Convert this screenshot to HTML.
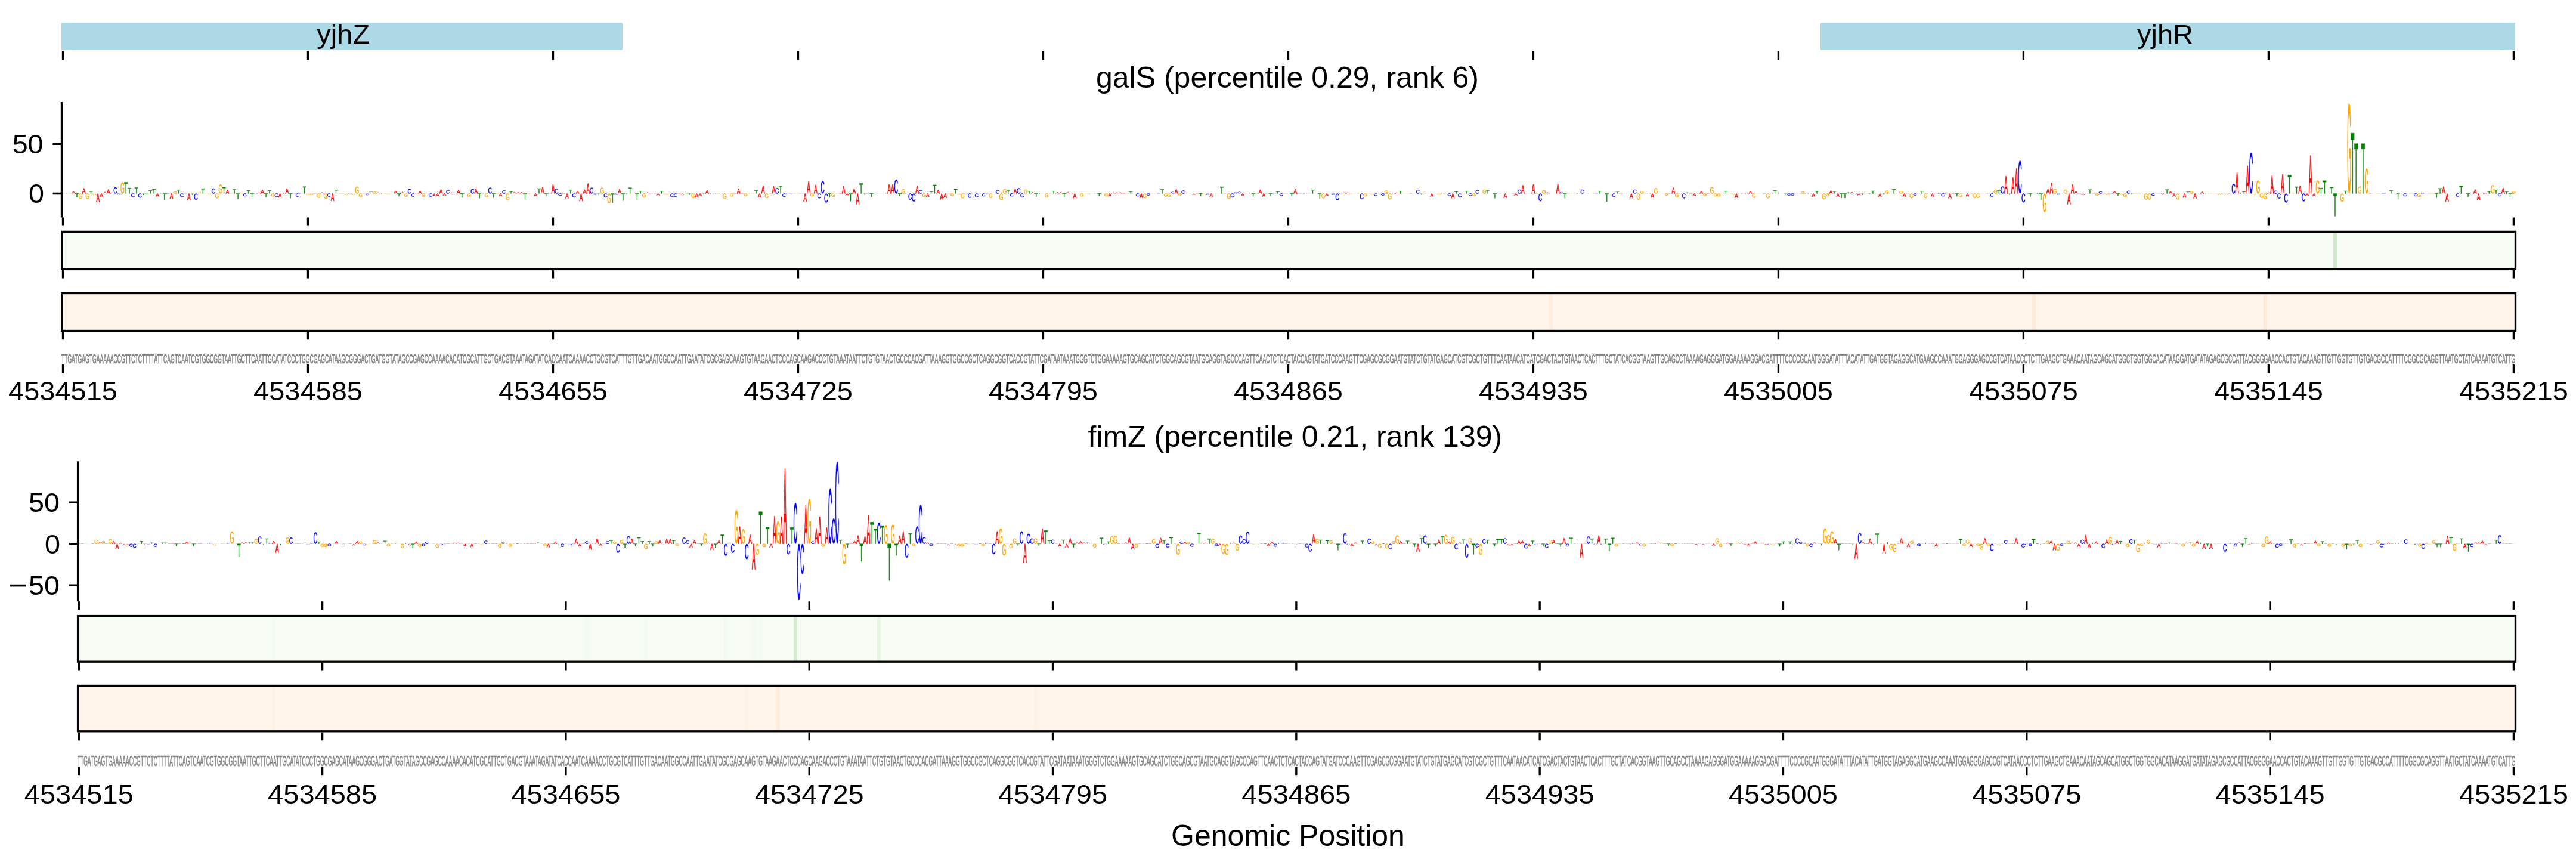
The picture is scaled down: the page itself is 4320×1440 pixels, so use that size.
<!DOCTYPE html><html><head><meta charset="utf-8"><style>html,body{margin:0;padding:0;background:#fff;} svg{display:block;will-change:transform;}</style></head><body><svg width="4320" height="1440" viewBox="0 0 4320 1440">
<style>text{font-family:"Liberation Sans",sans-serif;} .tl{font-size:43.5px;} </style>
<rect width="4320" height="1440" fill="#fff"/>
<defs><path id="gA" d="M85.6 100 73.8 70.8H26.5L14.6 100H0L42.3 0H58.3L100 100ZM50.1 10.2 49.5 12.2Q47.6 18.1 44 27.3L30.8 60.2H69.6L56.3 27.2Q54.2 22.3 52.1 16.1Z" vector-effect="non-scaling-stroke"/><path id="gC" d="M53 10.8Q35 10.8 25 21.1Q15 31.5 15 49.6Q15 67.4 25.4 78.3Q35.9 89.2 53.7 89.2Q76.5 89.2 88 69L100 74.3Q93.3 86.9 81.1 93.4Q69 100 53 100Q36.5 100 24.6 93.9Q12.6 87.8 6.3 76.4Q0 65.1 0 49.6Q0 26.3 14 13.2Q28.1 0 52.9 0Q70.2 0 81.9 6.1Q93.5 12.1 99 24.1L85 28.2Q81.3 19.7 72.9 15.2Q64.5 10.8 53 10.8Z" vector-effect="non-scaling-stroke"/><path id="gG" d="M0 49.6Q0 25.9 13.8 13Q27.5 0 52.4 0Q69.9 0 80.9 5.4Q91.8 10.9 97.7 22.9L84.1 26.6Q79.6 18.3 71.7 14.6Q63.8 10.8 52.1 10.8Q33.8 10.8 24.2 20.9Q14.5 31.1 14.5 49.6Q14.5 68 24.8 78.7Q35 89.3 53.1 89.3Q63.4 89.3 72.4 86.4Q81.3 83.5 86.8 78.6V61H55.3V50H100V83.5Q91.6 91.4 79.5 95.7Q67.3 100 53.1 100Q36.6 100 24.6 93.9Q12.6 87.9 6.3 76.4Q0 65 0 49.6Z" vector-effect="non-scaling-stroke"/><path id="gT" d="M58.2 11.1V100H41.8V11.1H0V0H100V11.1Z" vector-effect="non-scaling-stroke"/></defs>
<rect x="103.1" y="38.3" width="941" height="45.4" rx="2" fill="#add8e6"/><rect x="103.1" y="38.3" width="20" height="45.4" fill="#add8e6"/>
<rect x="3052.9" y="38.3" width="1164.7" height="45.4" rx="2" fill="#add8e6"/><rect x="4197.6" y="38.3" width="20" height="45.4" fill="#add8e6"/>
<text transform="translate(575.70,72.90) scale(1.0700,1)" font-size="44" text-anchor="middle" >yjhZ</text>
<text transform="translate(3631.00,72.90) scale(1.0700,1)" font-size="44" text-anchor="middle" >yjhR</text>
<path d="M105.50 85.50V100.60 M516.49 85.50V100.60 M927.48 85.50V100.60 M1338.47 85.50V100.60 M1749.46 85.50V100.60 M2160.45 85.50V100.60 M2571.44 85.50V100.60 M2982.43 85.50V100.60 M3393.42 85.50V100.60 M3804.41 85.50V100.60 M4215.40 85.50V100.60" stroke="#000" stroke-width="3.33" fill="none"/>
<text x="2159" y="147" font-size="50" text-anchor="middle">galS (percentile 0.29, rank 6)</text>
<path d="M103.5 171V364.5 M88.5 241.3H103.5 M88.5 324.5H103.5" stroke="#000" stroke-width="3.33" fill="none"/>
<text transform="translate(72.60,257.10) scale(1.0500,1)" font-size="44.5" text-anchor="end" >50</text>
<text transform="translate(73.90,339.80) scale(1.0500,1)" font-size="44.5" text-anchor="end" >0</text>
<g fill="#ff0000" stroke="#ff0000" stroke-width="0.4"><use href="#gA" transform="translate(120.30 321.10) scale(0.0564 0.0340)"/><use href="#gA" transform="translate(137.91 315.70) scale(0.0564 0.0880)"/><use href="#gA" transform="translate(161.39 324.50) scale(0.0564 0.1390)"/><use href="#gA" transform="translate(167.27 324.50) scale(0.0564 0.0590)"/><use href="#gA" transform="translate(179.01 317.60) scale(0.0564 0.0690)"/><use href="#gA" transform="translate(261.21 324.50) scale(0.0564 0.0510)"/><use href="#gA" transform="translate(284.69 324.50) scale(0.0564 0.0880)"/><use href="#gA" transform="translate(314.05 324.50) scale(0.0564 0.1150)"/><use href="#gA" transform="translate(378.63 318.40) scale(0.0564 0.0610)"/><use href="#gA" transform="translate(437.35 318.40) scale(0.0564 0.0610)"/><use href="#gA" transform="translate(466.70 324.50) scale(0.0564 0.0670)"/><use href="#gA" transform="translate(478.44 316.00) scale(0.0564 0.0850)"/><use href="#gA" transform="translate(554.77 324.50) scale(0.0564 0.1230)"/><use href="#gA" transform="translate(660.45 320.00) scale(0.0564 0.0450)"/><use href="#gA" transform="translate(701.55 320.00) scale(0.0564 0.0450)"/><use href="#gA" transform="translate(725.04 324.50) scale(0.0564 0.0430)"/><use href="#gA" transform="translate(730.91 324.50) scale(0.0564 0.0430)"/><use href="#gA" transform="translate(736.78 317.60) scale(0.0564 0.0690)"/><use href="#gA" transform="translate(742.65 324.50) scale(0.0564 0.0300)"/><use href="#gA" transform="translate(766.14 318.40) scale(0.0564 0.0610)"/><use href="#gA" transform="translate(795.49 316.00) scale(0.0564 0.0850)"/><use href="#gA" transform="translate(836.59 324.50) scale(0.0564 0.0430)"/><use href="#gA" transform="translate(895.31 324.50) scale(0.0564 0.0430)"/><use href="#gA" transform="translate(907.05 313.60) scale(0.0564 0.1090)"/><use href="#gA" transform="translate(924.66 309.20) scale(0.0564 0.1530)"/><use href="#gA" transform="translate(948.15 324.50) scale(0.0564 0.0780)"/><use href="#gA" transform="translate(965.76 320.30) scale(0.0564 0.0420)"/><use href="#gA" transform="translate(971.63 324.50) scale(0.0564 0.1260)"/><use href="#gA" transform="translate(977.50 317.90) scale(0.0564 0.0660)"/><use href="#gA" transform="translate(983.37 307.50) scale(0.0564 0.1700)"/><use href="#gA" transform="translate(1036.22 317.10) scale(0.0564 0.0740)"/><use href="#gA" transform="translate(1100.80 324.50) scale(0.0564 0.0300)"/><use href="#gA" transform="translate(1165.38 324.50) scale(0.0564 0.0670)"/><use href="#gA" transform="translate(1171.26 324.50) scale(0.0564 0.0380)"/><use href="#gA" transform="translate(1183.00 319.10) scale(0.0564 0.0540)"/><use href="#gA" transform="translate(1235.84 316.40) scale(0.0564 0.0810)"/><use href="#gA" transform="translate(1271.07 324.50) scale(0.0564 0.0680)"/><use href="#gA" transform="translate(1276.94 311.50) scale(0.0564 0.1300)"/><use href="#gA" transform="translate(1294.55 312.40) scale(0.0564 0.1210)"/><use href="#gA" transform="translate(1347.39 324.50) scale(0.0564 0.1340)"/><use href="#gA" transform="translate(1353.27 304.30) scale(0.0564 0.2020)"/><use href="#gA" transform="translate(1365.01 309.90) scale(0.0564 0.1460)"/><use href="#gA" transform="translate(1411.98 312.30) scale(0.0564 0.1220)"/><use href="#gA" transform="translate(1417.85 324.50) scale(0.0564 0.0300)"/><use href="#gA" transform="translate(1429.59 316.30) scale(0.0564 0.0820)"/><use href="#gA" transform="translate(1435.46 324.50) scale(0.0564 0.1820)"/><use href="#gA" transform="translate(1488.31 309.10) scale(0.0564 0.1540)"/><use href="#gA" transform="translate(1494.18 309.10) scale(0.0564 0.1540)"/><use href="#gA" transform="translate(1535.28 311.50) scale(0.0564 0.1300)"/><use href="#gA" transform="translate(1552.89 324.50) scale(0.0564 0.0540)"/><use href="#gA" transform="translate(1570.50 318.70) scale(0.0564 0.0580)"/><use href="#gA" transform="translate(1576.37 324.50) scale(0.0564 0.1100)"/><use href="#gA" transform="translate(1582.25 324.50) scale(0.0564 0.0700)"/><use href="#gA" transform="translate(1699.67 316.30) scale(0.0564 0.0820)"/><use href="#gA" transform="translate(1799.48 324.50) scale(0.0564 0.0780)"/><use href="#gA" transform="translate(1858.20 324.50) scale(0.0564 0.0460)"/><use href="#gA" transform="translate(1911.04 324.50) scale(0.0564 0.0780)"/><use href="#gA" transform="translate(1969.75 317.10) scale(0.0564 0.0740)"/><use href="#gA" transform="translate(2028.46 324.50) scale(0.0564 0.0540)"/><use href="#gA" transform="translate(2081.31 324.50) scale(0.0564 0.0380)"/><use href="#gA" transform="translate(2110.66 317.90) scale(0.0564 0.0660)"/><use href="#gA" transform="translate(2116.53 324.50) scale(0.0564 0.0540)"/><use href="#gA" transform="translate(2169.37 317.10) scale(0.0564 0.0740)"/><use href="#gA" transform="translate(2222.22 324.50) scale(0.0564 0.0380)"/><use href="#gA" transform="translate(2398.35 324.50) scale(0.0564 0.0540)"/><use href="#gA" transform="translate(2433.58 324.50) scale(0.0564 0.0780)"/><use href="#gA" transform="translate(2521.65 324.50) scale(0.0564 0.0700)"/><use href="#gA" transform="translate(2539.27 324.50) scale(0.0564 0.0300)"/><use href="#gA" transform="translate(2551.01 310.70) scale(0.0564 0.1380)"/><use href="#gA" transform="translate(2568.62 309.10) scale(0.0564 0.1540)"/><use href="#gA" transform="translate(2609.72 308.30) scale(0.0564 0.1620)"/><use href="#gA" transform="translate(2733.02 324.50) scale(0.0564 0.0780)"/><use href="#gA" transform="translate(2768.25 324.50) scale(0.0564 0.0700)"/><use href="#gA" transform="translate(2803.47 314.70) scale(0.0564 0.0980)"/><use href="#gA" transform="translate(2838.70 324.50) scale(0.0564 0.0380)"/><use href="#gA" transform="translate(2850.44 320.30) scale(0.0564 0.0420)"/><use href="#gA" transform="translate(2909.16 324.50) scale(0.0564 0.0740)"/><use href="#gA" transform="translate(2932.64 320.30) scale(0.0564 0.0420)"/><use href="#gA" transform="translate(3038.32 324.50) scale(0.0564 0.0540)"/><use href="#gA" transform="translate(3067.68 319.50) scale(0.0564 0.0500)"/><use href="#gA" transform="translate(3079.42 324.50) scale(0.0564 0.0540)"/><use href="#gA" transform="translate(3114.65 324.50) scale(0.0564 0.0300)"/><use href="#gA" transform="translate(3149.88 324.50) scale(0.0564 0.0540)"/><use href="#gA" transform="translate(3190.98 324.50) scale(0.0564 0.0540)"/><use href="#gA" transform="translate(3237.95 324.50) scale(0.0564 0.0540)"/><use href="#gA" transform="translate(3267.30 324.50) scale(0.0564 0.0780)"/><use href="#gA" transform="translate(3296.66 324.50) scale(0.0564 0.0460)"/><use href="#gA" transform="translate(3361.25 295.30) scale(0.0564 0.2920)"/><use href="#gA" transform="translate(3372.99 297.00) scale(0.0564 0.2750)"/><use href="#gA" transform="translate(3378.86 282.30) scale(0.0564 0.4220)"/><use href="#gA" transform="translate(3431.70 316.50) scale(0.0564 0.0800)"/><use href="#gA" transform="translate(3437.57 306.70) scale(0.0564 0.1780)"/><use href="#gA" transform="translate(3466.93 324.50) scale(0.0564 0.1810)"/><use href="#gA" transform="translate(3472.80 309.20) scale(0.0564 0.1530)"/><use href="#gA" transform="translate(3478.67 320.60) scale(0.0564 0.0390)"/><use href="#gA" transform="translate(3543.26 320.60) scale(0.0564 0.0390)"/><use href="#gA" transform="translate(3637.20 320.60) scale(0.0564 0.0390)"/><use href="#gA" transform="translate(3643.07 324.50) scale(0.0564 0.0500)"/><use href="#gA" transform="translate(3660.68 324.50) scale(0.0564 0.0670)"/><use href="#gA" transform="translate(3678.29 324.50) scale(0.0564 0.0800)"/><use href="#gA" transform="translate(3690.04 321.40) scale(0.0564 0.0310)"/><use href="#gA" transform="translate(3748.75 288.40) scale(0.0564 0.3610)"/><use href="#gA" transform="translate(3766.36 277.90) scale(0.0564 0.4660)"/><use href="#gA" transform="translate(3807.46 294.20) scale(0.0564 0.3030)"/><use href="#gA" transform="translate(3825.08 291.90) scale(0.0564 0.3260)"/><use href="#gA" transform="translate(3854.43 311.70) scale(0.0564 0.1280)"/><use href="#gA" transform="translate(3866.18 324.50) scale(0.0564 0.0350)"/><use href="#gA" transform="translate(3872.05 260.50) scale(0.0564 0.6400)"/><use href="#gA" transform="translate(3877.92 324.50) scale(0.0564 0.0400)"/><use href="#gA" transform="translate(4095.16 312.70) scale(0.0564 0.1180)"/><use href="#gA" transform="translate(4101.03 324.50) scale(0.0564 0.1370)"/><use href="#gA" transform="translate(4148.00 317.70) scale(0.0564 0.0680)"/><use href="#gA" transform="translate(4153.87 324.50) scale(0.0564 0.1120)"/><use href="#gA" transform="translate(4194.97 315.20) scale(0.0564 0.0930)"/></g>
<g fill="#ff0000"><use href="#gA" transform="translate(173.14 321.60) scale(0.0564 0.0290)"/><use href="#gA" transform="translate(184.88 322.50) scale(0.0564 0.0200)"/><use href="#gA" transform="translate(308.18 323.20) scale(0.0564 0.0130)"/><use href="#gA" transform="translate(384.50 324.00) scale(0.0564 0.0050)"/><use href="#gA" transform="translate(431.47 322.40) scale(0.0564 0.0210)"/><use href="#gA" transform="translate(537.16 322.50) scale(0.0564 0.0200)"/><use href="#gA" transform="translate(566.51 324.50) scale(0.0564 0.0050)"/><use href="#gA" transform="translate(572.38 324.50) scale(0.0564 0.0050)"/><use href="#gA" transform="translate(607.61 324.50) scale(0.0564 0.0050)"/><use href="#gA" transform="translate(631.10 322.50) scale(0.0564 0.0200)"/><use href="#gA" transform="translate(672.20 321.60) scale(0.0564 0.0290)"/><use href="#gA" transform="translate(754.39 322.50) scale(0.0564 0.0200)"/><use href="#gA" transform="translate(860.08 321.60) scale(0.0564 0.0290)"/><use href="#gA" transform="translate(865.95 322.00) scale(0.0564 0.0250)"/><use href="#gA" transform="translate(871.82 322.00) scale(0.0564 0.0250)"/><use href="#gA" transform="translate(883.56 324.50) scale(0.0564 0.0050)"/><use href="#gA" transform="translate(942.28 323.50) scale(0.0564 0.0100)"/><use href="#gA" transform="translate(1083.19 322.30) scale(0.0564 0.0220)"/><use href="#gA" transform="translate(1094.93 324.00) scale(0.0564 0.0050)"/><use href="#gA" transform="translate(1136.03 323.50) scale(0.0564 0.0100)"/><use href="#gA" transform="translate(1141.90 324.50) scale(0.0564 0.0220)"/><use href="#gA" transform="translate(1218.23 324.00) scale(0.0564 0.0050)"/><use href="#gA" transform="translate(1241.71 323.50) scale(0.0564 0.0100)"/><use href="#gA" transform="translate(1288.68 324.50) scale(0.0564 0.0080)"/><use href="#gA" transform="translate(1329.78 324.50) scale(0.0564 0.0050)"/><use href="#gA" transform="translate(1406.11 323.50) scale(0.0564 0.0100)"/><use href="#gA" transform="translate(1652.70 323.00) scale(0.0564 0.0150)"/><use href="#gA" transform="translate(1729.03 322.00) scale(0.0564 0.0250)"/><use href="#gA" transform="translate(1758.38 324.00) scale(0.0564 0.0050)"/><use href="#gA" transform="translate(1770.13 322.00) scale(0.0564 0.0250)"/><use href="#gA" transform="translate(1776.00 322.00) scale(0.0564 0.0250)"/><use href="#gA" transform="translate(1787.74 321.70) scale(0.0564 0.0280)"/><use href="#gA" transform="translate(1793.61 323.00) scale(0.0564 0.0150)"/><use href="#gA" transform="translate(1864.07 322.50) scale(0.0564 0.0200)"/><use href="#gA" transform="translate(1869.94 322.50) scale(0.0564 0.0200)"/><use href="#gA" transform="translate(1875.81 322.50) scale(0.0564 0.0200)"/><use href="#gA" transform="translate(1881.68 323.50) scale(0.0564 0.0100)"/><use href="#gA" transform="translate(1928.65 324.00) scale(0.0564 0.0050)"/><use href="#gA" transform="translate(1999.11 324.50) scale(0.0564 0.0250)"/><use href="#gA" transform="translate(2004.98 323.50) scale(0.0564 0.0100)"/><use href="#gA" transform="translate(2051.95 324.00) scale(0.0564 0.0050)"/><use href="#gA" transform="translate(2151.76 324.00) scale(0.0564 0.0050)"/><use href="#gA" transform="translate(2186.99 323.00) scale(0.0564 0.0150)"/><use href="#gA" transform="translate(2204.60 324.20) scale(0.0564 0.0030)"/><use href="#gA" transform="translate(2251.57 322.50) scale(0.0564 0.0200)"/><use href="#gA" transform="translate(2257.44 322.50) scale(0.0564 0.0200)"/><use href="#gA" transform="translate(2292.67 324.20) scale(0.0564 0.0030)"/><use href="#gA" transform="translate(2333.77 323.00) scale(0.0564 0.0150)"/><use href="#gA" transform="translate(2339.64 322.50) scale(0.0564 0.0200)"/><use href="#gA" transform="translate(2363.13 323.50) scale(0.0564 0.0100)"/><use href="#gA" transform="translate(2415.97 323.00) scale(0.0564 0.0150)"/><use href="#gA" transform="translate(2515.78 323.00) scale(0.0564 0.0150)"/><use href="#gA" transform="translate(2533.39 324.00) scale(0.0564 0.0050)"/><use href="#gA" transform="translate(2592.11 322.50) scale(0.0564 0.0200)"/><use href="#gA" transform="translate(2639.08 323.00) scale(0.0564 0.0150)"/><use href="#gA" transform="translate(2644.95 323.00) scale(0.0564 0.0150)"/><use href="#gA" transform="translate(2668.43 324.20) scale(0.0564 0.0030)"/><use href="#gA" transform="translate(2715.40 323.00) scale(0.0564 0.0150)"/><use href="#gA" transform="translate(2762.37 323.00) scale(0.0564 0.0150)"/><use href="#gA" transform="translate(2832.83 323.50) scale(0.0564 0.0100)"/><use href="#gA" transform="translate(2844.57 324.20) scale(0.0564 0.0030)"/><use href="#gA" transform="translate(2862.19 323.50) scale(0.0564 0.0100)"/><use href="#gA" transform="translate(2885.67 324.20) scale(0.0564 0.0030)"/><use href="#gA" transform="translate(2915.03 323.00) scale(0.0564 0.0150)"/><use href="#gA" transform="translate(2920.90 323.00) scale(0.0564 0.0150)"/><use href="#gA" transform="translate(2926.77 323.00) scale(0.0564 0.0150)"/><use href="#gA" transform="translate(2950.26 324.20) scale(0.0564 0.0030)"/><use href="#gA" transform="translate(2967.87 323.00) scale(0.0564 0.0150)"/><use href="#gA" transform="translate(3032.45 323.00) scale(0.0564 0.0150)"/><use href="#gA" transform="translate(3102.91 322.00) scale(0.0564 0.0250)"/><use href="#gA" transform="translate(3126.39 324.20) scale(0.0564 0.0030)"/><use href="#gA" transform="translate(3179.24 323.00) scale(0.0564 0.0150)"/><use href="#gA" transform="translate(3214.46 323.00) scale(0.0564 0.0150)"/><use href="#gA" transform="translate(3232.08 323.00) scale(0.0564 0.0150)"/><use href="#gA" transform="translate(3261.43 323.00) scale(0.0564 0.0150)"/><use href="#gA" transform="translate(3273.18 323.50) scale(0.0564 0.0100)"/><use href="#gA" transform="translate(3320.15 324.20) scale(0.0564 0.0030)"/><use href="#gA" transform="translate(3490.41 324.50) scale(0.0564 0.0260)"/><use href="#gA" transform="translate(3496.28 323.00) scale(0.0564 0.0150)"/><use href="#gA" transform="translate(3508.03 323.50) scale(0.0564 0.0100)"/><use href="#gA" transform="translate(3525.64 323.00) scale(0.0564 0.0150)"/><use href="#gA" transform="translate(3613.71 324.20) scale(0.0564 0.0030)"/><use href="#gA" transform="translate(3625.45 324.50) scale(0.0564 0.0200)"/><use href="#gA" transform="translate(3701.78 324.20) scale(0.0564 0.0030)"/><use href="#gA" transform="translate(3713.52 324.20) scale(0.0564 0.0030)"/><use href="#gA" transform="translate(3801.59 322.50) scale(0.0564 0.0200)"/><use href="#gA" transform="translate(3971.86 323.50) scale(0.0564 0.0100)"/><use href="#gA" transform="translate(4001.22 324.20) scale(0.0564 0.0030)"/><use href="#gA" transform="translate(4065.80 324.20) scale(0.0564 0.0030)"/><use href="#gA" transform="translate(4130.38 324.20) scale(0.0564 0.0030)"/><use href="#gA" transform="translate(4159.74 323.00) scale(0.0564 0.0150)"/><use href="#gA" transform="translate(4165.61 323.50) scale(0.0564 0.0100)"/></g>
<g fill="#0000ff" stroke="#0000ff" stroke-width="0.4"><use href="#gC" transform="translate(190.75 314.10) scale(0.0564 0.1040)"/><use href="#gC" transform="translate(220.11 324.50) scale(0.0564 0.0590)"/><use href="#gC" transform="translate(231.85 324.50) scale(0.0564 0.0670)"/><use href="#gC" transform="translate(302.31 324.50) scale(0.0564 0.0590)"/><use href="#gC" transform="translate(325.79 324.50) scale(0.0564 0.1040)"/><use href="#gC" transform="translate(355.15 316.00) scale(0.0564 0.0850)"/><use href="#gC" transform="translate(407.99 324.50) scale(0.0564 0.0430)"/><use href="#gC" transform="translate(460.83 324.50) scale(0.0564 0.0590)"/><use href="#gC" transform="translate(496.06 324.50) scale(0.0564 0.0510)"/><use href="#gC" transform="translate(548.90 324.50) scale(0.0564 0.0510)"/><use href="#gC" transform="translate(683.94 316.80) scale(0.0564 0.0770)"/><use href="#gC" transform="translate(689.81 324.50) scale(0.0564 0.0510)"/><use href="#gC" transform="translate(719.17 324.50) scale(0.0564 0.0510)"/><use href="#gC" transform="translate(748.52 318.40) scale(0.0564 0.0610)"/><use href="#gC" transform="translate(789.62 316.80) scale(0.0564 0.0770)"/><use href="#gC" transform="translate(818.98 314.40) scale(0.0564 0.1010)"/><use href="#gC" transform="translate(842.46 319.20) scale(0.0564 0.0530)"/><use href="#gC" transform="translate(930.53 316.30) scale(0.0564 0.0820)"/><use href="#gC" transform="translate(936.40 324.50) scale(0.0564 0.0350)"/><use href="#gC" transform="translate(959.89 324.50) scale(0.0564 0.0620)"/><use href="#gC" transform="translate(989.25 314.70) scale(0.0564 0.0980)"/><use href="#gC" transform="translate(1012.73 324.50) scale(0.0564 0.0620)"/><use href="#gC" transform="translate(1124.29 324.50) scale(0.0564 0.0580)"/><use href="#gC" transform="translate(1130.16 324.50) scale(0.0564 0.0580)"/><use href="#gC" transform="translate(1300.42 315.20) scale(0.0564 0.0930)"/><use href="#gC" transform="translate(1312.17 324.50) scale(0.0564 0.0560)"/><use href="#gC" transform="translate(1370.88 324.50) scale(0.0564 0.0780)"/><use href="#gC" transform="translate(1376.75 303.50) scale(0.0564 0.2100)"/><use href="#gC" transform="translate(1382.62 324.50) scale(0.0564 0.1500)"/><use href="#gC" transform="translate(1500.05 301.10) scale(0.0564 0.2340)"/><use href="#gC" transform="translate(1523.53 324.50) scale(0.0564 0.1020)"/><use href="#gC" transform="translate(1529.40 324.50) scale(0.0564 0.1340)"/><use href="#gC" transform="translate(1541.15 318.70) scale(0.0564 0.0580)"/><use href="#gC" transform="translate(1623.34 324.50) scale(0.0564 0.0700)"/><use href="#gC" transform="translate(1635.09 324.50) scale(0.0564 0.0620)"/><use href="#gC" transform="translate(1646.83 324.50) scale(0.0564 0.0460)"/><use href="#gC" transform="translate(1670.32 318.70) scale(0.0564 0.0580)"/><use href="#gC" transform="translate(1693.80 324.50) scale(0.0564 0.0460)"/><use href="#gC" transform="translate(1705.54 315.50) scale(0.0564 0.0900)"/><use href="#gC" transform="translate(1711.41 324.50) scale(0.0564 0.0620)"/><use href="#gC" transform="translate(1905.17 324.50) scale(0.0564 0.0460)"/><use href="#gC" transform="translate(1922.78 324.50) scale(0.0564 0.0300)"/><use href="#gC" transform="translate(1981.49 319.50) scale(0.0564 0.0500)"/><use href="#gC" transform="translate(2063.69 324.50) scale(0.0564 0.0620)"/><use href="#gC" transform="translate(2145.89 324.50) scale(0.0564 0.0380)"/><use href="#gC" transform="translate(2239.83 324.50) scale(0.0564 0.1100)"/><use href="#gC" transform="translate(2280.93 324.50) scale(0.0564 0.0940)"/><use href="#gC" transform="translate(2304.41 324.50) scale(0.0564 0.0380)"/><use href="#gC" transform="translate(2316.16 324.50) scale(0.0564 0.0300)"/><use href="#gC" transform="translate(2374.87 318.40) scale(0.0564 0.0610)"/><use href="#gC" transform="translate(2427.71 324.50) scale(0.0564 0.0380)"/><use href="#gC" transform="translate(2445.32 324.50) scale(0.0564 0.0620)"/><use href="#gC" transform="translate(2462.94 324.50) scale(0.0564 0.0380)"/><use href="#gC" transform="translate(2474.68 318.70) scale(0.0564 0.0580)"/><use href="#gC" transform="translate(2545.14 317.90) scale(0.0564 0.0660)"/><use href="#gC" transform="translate(2580.36 324.50) scale(0.0564 0.1260)"/><use href="#gC" transform="translate(2650.82 317.90) scale(0.0564 0.0660)"/><use href="#gC" transform="translate(2703.66 324.50) scale(0.0564 0.0540)"/><use href="#gC" transform="translate(2738.89 317.90) scale(0.0564 0.0660)"/><use href="#gC" transform="translate(2821.09 324.50) scale(0.0564 0.0780)"/><use href="#gC" transform="translate(2997.23 324.50) scale(0.0564 0.0300)"/><use href="#gC" transform="translate(3003.10 324.50) scale(0.0564 0.0300)"/><use href="#gC" transform="translate(3208.59 324.50) scale(0.0564 0.0300)"/><use href="#gC" transform="translate(3255.56 324.50) scale(0.0564 0.0460)"/><use href="#gC" transform="translate(3337.76 324.50) scale(0.0564 0.0500)"/><use href="#gC" transform="translate(3355.37 312.40) scale(0.0564 0.1210)"/><use href="#gC" transform="translate(3384.73 269.30) scale(0.0564 0.5520)"/><use href="#gC" transform="translate(3390.60 324.50) scale(0.0564 0.1480)"/><use href="#gC" transform="translate(3519.77 321.10) scale(0.0564 0.0340)"/><use href="#gC" transform="translate(3566.74 319.80) scale(0.0564 0.0470)"/><use href="#gC" transform="translate(3607.84 324.50) scale(0.0564 0.0340)"/><use href="#gC" transform="translate(3742.88 308.20) scale(0.0564 0.1630)"/><use href="#gC" transform="translate(3772.24 255.80) scale(0.0564 0.6870)"/><use href="#gC" transform="translate(3813.33 319.80) scale(0.0564 0.0470)"/><use href="#gC" transform="translate(3819.21 324.50) scale(0.0564 0.0810)"/><use href="#gC" transform="translate(3830.95 324.50) scale(0.0564 0.1510)"/><use href="#gC" transform="translate(3860.30 324.50) scale(0.0564 0.1280)"/><use href="#gC" transform="translate(4030.57 324.50) scale(0.0564 0.0430)"/><use href="#gC" transform="translate(4048.19 324.50) scale(0.0564 0.0430)"/><use href="#gC" transform="translate(4118.64 324.50) scale(0.0564 0.0500)"/><use href="#gC" transform="translate(4189.10 324.50) scale(0.0564 0.0430)"/></g>
<g fill="#0000ff"><use href="#gC" transform="translate(196.62 324.50) scale(0.0564 0.0190)"/><use href="#gC" transform="translate(278.82 323.20) scale(0.0564 0.0130)"/><use href="#gC" transform="translate(425.60 324.50) scale(0.0564 0.0050)"/><use href="#gC" transform="translate(490.19 324.50) scale(0.0564 0.0050)"/><use href="#gC" transform="translate(501.93 323.50) scale(0.0564 0.0100)"/><use href="#gC" transform="translate(525.41 323.50) scale(0.0564 0.0100)"/><use href="#gC" transform="translate(584.13 324.00) scale(0.0564 0.0050)"/><use href="#gC" transform="translate(613.48 324.50) scale(0.0564 0.0270)"/><use href="#gC" transform="translate(713.30 324.50) scale(0.0564 0.0100)"/><use href="#gC" transform="translate(760.27 324.50) scale(0.0564 0.0100)"/><use href="#gC" transform="translate(777.88 323.50) scale(0.0564 0.0100)"/><use href="#gC" transform="translate(918.79 323.50) scale(0.0564 0.0100)"/><use href="#gC" transform="translate(995.12 324.50) scale(0.0564 0.0190)"/><use href="#gC" transform="translate(1030.34 324.50) scale(0.0564 0.0220)"/><use href="#gC" transform="translate(1089.06 324.50) scale(0.0564 0.0100)"/><use href="#gC" transform="translate(1194.74 324.50) scale(0.0564 0.0100)"/><use href="#gC" transform="translate(1206.48 324.00) scale(0.0564 0.0050)"/><use href="#gC" transform="translate(1229.97 324.50) scale(0.0564 0.0120)"/><use href="#gC" transform="translate(1318.04 324.50) scale(0.0564 0.0070)"/><use href="#gC" transform="translate(1323.91 323.70) scale(0.0564 0.0080)"/><use href="#gC" transform="translate(1341.52 324.50) scale(0.0564 0.0050)"/><use href="#gC" transform="translate(1453.08 324.50) scale(0.0564 0.0050)"/><use href="#gC" transform="translate(1517.66 324.50) scale(0.0564 0.0080)"/><use href="#gC" transform="translate(1617.47 324.00) scale(0.0564 0.0050)"/><use href="#gC" transform="translate(1746.64 324.20) scale(0.0564 0.0030)"/><use href="#gC" transform="translate(1834.71 323.70) scale(0.0564 0.0080)"/><use href="#gC" transform="translate(1940.39 324.50) scale(0.0564 0.0120)"/><use href="#gC" transform="translate(1963.88 321.60) scale(0.0564 0.0290)"/><use href="#gC" transform="translate(2022.59 324.50) scale(0.0564 0.0250)"/><use href="#gC" transform="translate(2069.56 322.30) scale(0.0564 0.0220)"/><use href="#gC" transform="translate(2075.43 321.60) scale(0.0564 0.0290)"/><use href="#gC" transform="translate(2104.79 324.50) scale(0.0564 0.0050)"/><use href="#gC" transform="translate(2122.40 324.00) scale(0.0564 0.0050)"/><use href="#gC" transform="translate(2134.15 324.00) scale(0.0564 0.0050)"/><use href="#gC" transform="translate(2157.63 324.20) scale(0.0564 0.0030)"/><use href="#gC" transform="translate(2175.25 324.50) scale(0.0564 0.0050)"/><use href="#gC" transform="translate(2181.12 324.50) scale(0.0564 0.0050)"/><use href="#gC" transform="translate(2233.96 324.50) scale(0.0564 0.0250)"/><use href="#gC" transform="translate(2245.70 323.70) scale(0.0564 0.0080)"/><use href="#gC" transform="translate(2509.91 324.20) scale(0.0564 0.0030)"/><use href="#gC" transform="translate(2562.75 324.20) scale(0.0564 0.0030)"/><use href="#gC" transform="translate(2597.98 324.20) scale(0.0564 0.0030)"/><use href="#gC" transform="translate(2615.59 322.00) scale(0.0564 0.0250)"/><use href="#gC" transform="translate(2662.56 324.20) scale(0.0564 0.0030)"/><use href="#gC" transform="translate(2674.30 324.50) scale(0.0564 0.0120)"/><use href="#gC" transform="translate(2727.15 324.20) scale(0.0564 0.0030)"/><use href="#gC" transform="translate(2797.60 323.70) scale(0.0564 0.0080)"/><use href="#gC" transform="translate(2815.22 324.00) scale(0.0564 0.0050)"/><use href="#gC" transform="translate(2956.13 324.50) scale(0.0564 0.0120)"/><use href="#gC" transform="translate(3008.97 324.20) scale(0.0564 0.0030)"/><use href="#gC" transform="translate(3014.84 324.00) scale(0.0564 0.0050)"/><use href="#gC" transform="translate(3026.58 324.50) scale(0.0564 0.0080)"/><use href="#gC" transform="translate(3108.78 324.00) scale(0.0564 0.0050)"/><use href="#gC" transform="translate(3249.69 323.00) scale(0.0564 0.0150)"/><use href="#gC" transform="translate(3331.89 323.50) scale(0.0564 0.0100)"/><use href="#gC" transform="translate(3396.47 324.00) scale(0.0564 0.0050)"/><use href="#gC" transform="translate(3408.22 324.20) scale(0.0564 0.0030)"/><use href="#gC" transform="translate(3449.31 324.50) scale(0.0564 0.0200)"/><use href="#gC" transform="translate(3484.54 323.50) scale(0.0564 0.0100)"/><use href="#gC" transform="translate(3537.38 324.00) scale(0.0564 0.0050)"/><use href="#gC" transform="translate(3619.58 324.00) scale(0.0564 0.0050)"/><use href="#gC" transform="translate(3725.27 323.50) scale(0.0564 0.0100)"/><use href="#gC" transform="translate(3737.01 323.50) scale(0.0564 0.0100)"/><use href="#gC" transform="translate(3977.73 324.20) scale(0.0564 0.0030)"/><use href="#gC" transform="translate(3989.47 324.00) scale(0.0564 0.0050)"/><use href="#gC" transform="translate(3995.34 323.00) scale(0.0564 0.0150)"/><use href="#gC" transform="translate(4059.93 323.00) scale(0.0564 0.0150)"/><use href="#gC" transform="translate(4142.13 324.20) scale(0.0564 0.0030)"/></g>
<g fill="#ffa500" stroke="#ffa500" stroke-width="0.4"><use href="#gG" transform="translate(132.04 324.50) scale(0.0564 0.0880)"/><use href="#gG" transform="translate(143.78 324.50) scale(0.0564 0.0910)"/><use href="#gG" transform="translate(202.49 305.60) scale(0.0564 0.1890)"/><use href="#gG" transform="translate(290.56 321.10) scale(0.0564 0.0340)"/><use href="#gG" transform="translate(361.02 324.50) scale(0.0564 0.0780)"/><use href="#gG" transform="translate(366.89 309.30) scale(0.0564 0.1520)"/><use href="#gG" transform="translate(454.96 324.50) scale(0.0564 0.0480)"/><use href="#gG" transform="translate(531.29 324.50) scale(0.0564 0.0670)"/><use href="#gG" transform="translate(543.03 324.50) scale(0.0564 0.0830)"/><use href="#gG" transform="translate(595.87 312.80) scale(0.0564 0.1170)"/><use href="#gG" transform="translate(601.74 324.50) scale(0.0564 0.0590)"/><use href="#gG" transform="translate(625.23 320.80) scale(0.0564 0.0370)"/><use href="#gG" transform="translate(678.07 324.50) scale(0.0564 0.0510)"/><use href="#gG" transform="translate(707.42 324.50) scale(0.0564 0.0510)"/><use href="#gG" transform="translate(783.75 324.50) scale(0.0564 0.0510)"/><use href="#gG" transform="translate(813.11 324.50) scale(0.0564 0.0590)"/><use href="#gG" transform="translate(848.34 324.50) scale(0.0564 0.1150)"/><use href="#gG" transform="translate(1006.86 314.70) scale(0.0564 0.0980)"/><use href="#gG" transform="translate(1018.60 324.50) scale(0.0564 0.1580)"/><use href="#gG" transform="translate(1077.32 324.50) scale(0.0564 0.0620)"/><use href="#gG" transform="translate(1159.51 324.50) scale(0.0564 0.0700)"/><use href="#gG" transform="translate(1212.35 324.50) scale(0.0564 0.0860)"/><use href="#gG" transform="translate(1224.10 324.50) scale(0.0564 0.0470)"/><use href="#gG" transform="translate(1247.58 324.50) scale(0.0564 0.0380)"/><use href="#gG" transform="translate(1282.81 324.50) scale(0.0564 0.0730)"/><use href="#gG" transform="translate(1359.14 324.50) scale(0.0564 0.0460)"/><use href="#gG" transform="translate(1394.36 324.50) scale(0.0564 0.0540)"/><use href="#gG" transform="translate(1511.79 317.10) scale(0.0564 0.0740)"/><use href="#gG" transform="translate(1547.02 324.50) scale(0.0564 0.0540)"/><use href="#gG" transform="translate(1593.99 324.50) scale(0.0564 0.0380)"/><use href="#gG" transform="translate(1611.60 324.50) scale(0.0564 0.0780)"/><use href="#gG" transform="translate(1658.57 324.50) scale(0.0564 0.0700)"/><use href="#gG" transform="translate(1676.19 324.50) scale(0.0564 0.1100)"/><use href="#gG" transform="translate(1682.06 317.10) scale(0.0564 0.0740)"/><use href="#gG" transform="translate(1717.29 317.90) scale(0.0564 0.0660)"/><use href="#gG" transform="translate(1752.51 324.50) scale(0.0564 0.0620)"/><use href="#gG" transform="translate(1811.23 324.50) scale(0.0564 0.0460)"/><use href="#gG" transform="translate(1852.32 324.50) scale(0.0564 0.0460)"/><use href="#gG" transform="translate(1916.91 324.50) scale(0.0564 0.0780)"/><use href="#gG" transform="translate(1952.14 324.50) scale(0.0564 0.0510)"/><use href="#gG" transform="translate(1958.01 324.50) scale(0.0564 0.0510)"/><use href="#gG" transform="translate(1975.62 324.50) scale(0.0564 0.0300)"/><use href="#gG" transform="translate(2057.82 324.50) scale(0.0564 0.0860)"/><use href="#gG" transform="translate(2216.34 324.50) scale(0.0564 0.0780)"/><use href="#gG" transform="translate(2286.80 324.50) scale(0.0564 0.0460)"/><use href="#gG" transform="translate(2322.03 319.50) scale(0.0564 0.0500)"/><use href="#gG" transform="translate(2327.90 324.50) scale(0.0564 0.0940)"/><use href="#gG" transform="translate(2468.81 324.50) scale(0.0564 0.0380)"/><use href="#gG" transform="translate(2486.42 317.90) scale(0.0564 0.0660)"/><use href="#gG" transform="translate(2586.24 318.70) scale(0.0564 0.0580)"/><use href="#gG" transform="translate(2744.76 324.50) scale(0.0564 0.1020)"/><use href="#gG" transform="translate(2750.63 320.30) scale(0.0564 0.0420)"/><use href="#gG" transform="translate(2774.12 315.50) scale(0.0564 0.0900)"/><use href="#gG" transform="translate(2791.73 324.50) scale(0.0564 0.0300)"/><use href="#gG" transform="translate(2809.34 324.50) scale(0.0564 0.0620)"/><use href="#gG" transform="translate(2856.31 324.50) scale(0.0564 0.0380)"/><use href="#gG" transform="translate(2868.06 313.90) scale(0.0564 0.1060)"/><use href="#gG" transform="translate(2873.93 324.50) scale(0.0564 0.0460)"/><use href="#gG" transform="translate(2879.80 324.50) scale(0.0564 0.0460)"/><use href="#gG" transform="translate(2938.51 324.50) scale(0.0564 0.0700)"/><use href="#gG" transform="translate(2962.00 324.50) scale(0.0564 0.0780)"/><use href="#gG" transform="translate(3020.71 321.10) scale(0.0564 0.0340)"/><use href="#gG" transform="translate(3055.94 324.50) scale(0.0564 0.0940)"/><use href="#gG" transform="translate(3061.81 324.50) scale(0.0564 0.0380)"/><use href="#gG" transform="translate(3161.62 319.50) scale(0.0564 0.0500)"/><use href="#gG" transform="translate(3185.11 320.30) scale(0.0564 0.0420)"/><use href="#gG" transform="translate(3202.72 324.50) scale(0.0564 0.0740)"/><use href="#gG" transform="translate(3226.21 324.50) scale(0.0564 0.0740)"/><use href="#gG" transform="translate(3284.92 324.50) scale(0.0564 0.0580)"/><use href="#gG" transform="translate(3308.40 324.50) scale(0.0564 0.0700)"/><use href="#gG" transform="translate(3314.28 324.50) scale(0.0564 0.0700)"/><use href="#gG" transform="translate(3343.63 318.10) scale(0.0564 0.0640)"/><use href="#gG" transform="translate(3425.83 324.50) scale(0.0564 0.3110)"/><use href="#gG" transform="translate(3443.44 316.50) scale(0.0564 0.0800)"/><use href="#gG" transform="translate(3461.06 318.10) scale(0.0564 0.0640)"/><use href="#gG" transform="translate(3513.90 324.50) scale(0.0564 0.0300)"/><use href="#gG" transform="translate(3560.87 324.50) scale(0.0564 0.0590)"/><use href="#gG" transform="translate(3596.10 324.50) scale(0.0564 0.0990)"/><use href="#gG" transform="translate(3601.97 324.50) scale(0.0564 0.0990)"/><use href="#gG" transform="translate(3648.94 324.50) scale(0.0564 0.0990)"/><use href="#gG" transform="translate(3672.42 320.60) scale(0.0564 0.0390)"/><use href="#gG" transform="translate(3783.98 302.40) scale(0.0564 0.2210)"/><use href="#gG" transform="translate(3789.85 324.50) scale(0.0564 0.0700)"/><use href="#gG" transform="translate(3795.72 324.50) scale(0.0564 0.0930)"/><use href="#gG" transform="translate(3883.79 302.40) scale(0.0564 0.2210)"/><use href="#gG" transform="translate(3924.89 324.50) scale(0.0564 0.1350)"/><use href="#gG" transform="translate(3936.63 173.20) scale(0.0564 1.5130)"/><use href="#gG" transform="translate(3954.25 312.50) scale(0.0564 0.1200)"/><use href="#gG" transform="translate(3965.99 282.50) scale(0.0564 0.4200)"/><use href="#gG" transform="translate(4054.06 324.50) scale(0.0564 0.0560)"/><use href="#gG" transform="translate(4177.35 310.20) scale(0.0564 0.1430)"/><use href="#gG" transform="translate(4212.58 320.20) scale(0.0564 0.0430)"/></g>
<g fill="#ffa500"><use href="#gG" transform="translate(114.42 323.50) scale(0.0564 0.0100)"/><use href="#gG" transform="translate(155.52 324.50) scale(0.0564 0.0270)"/><use href="#gG" transform="translate(331.66 322.40) scale(0.0564 0.0210)"/><use href="#gG" transform="translate(343.40 324.00) scale(0.0564 0.0050)"/><use href="#gG" transform="translate(349.28 324.50) scale(0.0564 0.0190)"/><use href="#gG" transform="translate(402.12 322.40) scale(0.0564 0.0210)"/><use href="#gG" transform="translate(513.67 324.50) scale(0.0564 0.0270)"/><use href="#gG" transform="translate(519.54 324.50) scale(0.0564 0.0270)"/><use href="#gG" transform="translate(578.26 324.50) scale(0.0564 0.0270)"/><use href="#gG" transform="translate(590.00 324.50) scale(0.0564 0.0270)"/><use href="#gG" transform="translate(642.84 324.50) scale(0.0564 0.0100)"/><use href="#gG" transform="translate(648.71 324.50) scale(0.0564 0.0190)"/><use href="#gG" transform="translate(695.68 323.20) scale(0.0564 0.0130)"/><use href="#gG" transform="translate(830.72 323.50) scale(0.0564 0.0100)"/><use href="#gG" transform="translate(889.43 324.50) scale(0.0564 0.0050)"/><use href="#gG" transform="translate(1059.70 324.50) scale(0.0564 0.0050)"/><use href="#gG" transform="translate(1112.54 324.50) scale(0.0564 0.0220)"/><use href="#gG" transform="translate(1118.41 324.50) scale(0.0564 0.0220)"/><use href="#gG" transform="translate(1200.61 324.50) scale(0.0564 0.0100)"/><use href="#gG" transform="translate(1259.33 323.70) scale(0.0564 0.0080)"/><use href="#gG" transform="translate(1335.65 324.00) scale(0.0564 0.0050)"/><use href="#gG" transform="translate(1464.82 324.50) scale(0.0564 0.0050)"/><use href="#gG" transform="translate(1476.56 324.00) scale(0.0564 0.0050)"/><use href="#gG" transform="translate(1588.12 324.50) scale(0.0564 0.0100)"/><use href="#gG" transform="translate(1605.73 324.50) scale(0.0564 0.0240)"/><use href="#gG" transform="translate(1629.22 324.00) scale(0.0564 0.0050)"/><use href="#gG" transform="translate(1664.44 324.50) scale(0.0564 0.0050)"/><use href="#gG" transform="translate(1817.10 324.50) scale(0.0564 0.0150)"/><use href="#gG" transform="translate(1822.97 324.50) scale(0.0564 0.0150)"/><use href="#gG" transform="translate(1846.45 324.20) scale(0.0564 0.0030)"/><use href="#gG" transform="translate(1887.55 324.20) scale(0.0564 0.0030)"/><use href="#gG" transform="translate(1899.30 324.20) scale(0.0564 0.0030)"/><use href="#gG" transform="translate(1987.36 324.00) scale(0.0564 0.0050)"/><use href="#gG" transform="translate(2016.72 324.50) scale(0.0564 0.0250)"/><use href="#gG" transform="translate(2034.33 324.20) scale(0.0564 0.0030)"/><use href="#gG" transform="translate(2040.21 324.00) scale(0.0564 0.0050)"/><use href="#gG" transform="translate(2087.18 324.20) scale(0.0564 0.0030)"/><use href="#gG" transform="translate(2192.86 323.50) scale(0.0564 0.0100)"/><use href="#gG" transform="translate(2263.31 324.50) scale(0.0564 0.0100)"/><use href="#gG" transform="translate(2298.54 324.50) scale(0.0564 0.0250)"/><use href="#gG" transform="translate(2310.29 324.20) scale(0.0564 0.0030)"/><use href="#gG" transform="translate(2351.38 324.50) scale(0.0564 0.0050)"/><use href="#gG" transform="translate(2386.61 321.60) scale(0.0564 0.0290)"/><use href="#gG" transform="translate(2410.10 324.50) scale(0.0564 0.0200)"/><use href="#gG" transform="translate(2421.84 324.00) scale(0.0564 0.0050)"/><use href="#gG" transform="translate(2451.20 324.00) scale(0.0564 0.0050)"/><use href="#gG" transform="translate(2627.33 324.50) scale(0.0564 0.0050)"/><use href="#gG" transform="translate(2697.79 324.00) scale(0.0564 0.0050)"/><use href="#gG" transform="translate(2897.41 324.20) scale(0.0564 0.0030)"/><use href="#gG" transform="translate(2903.29 324.50) scale(0.0564 0.0200)"/><use href="#gG" transform="translate(2944.38 324.20) scale(0.0564 0.0030)"/><use href="#gG" transform="translate(3050.07 323.50) scale(0.0564 0.0100)"/><use href="#gG" transform="translate(3144.01 324.50) scale(0.0564 0.0080)"/><use href="#gG" transform="translate(3167.49 324.50) scale(0.0564 0.0080)"/><use href="#gG" transform="translate(3196.85 323.00) scale(0.0564 0.0150)"/><use href="#gG" transform="translate(3243.82 324.50) scale(0.0564 0.0150)"/><use href="#gG" transform="translate(3290.79 324.50) scale(0.0564 0.0080)"/><use href="#gG" transform="translate(3302.53 324.50) scale(0.0564 0.0150)"/><use href="#gG" transform="translate(3326.02 324.20) scale(0.0564 0.0030)"/><use href="#gG" transform="translate(3531.51 324.50) scale(0.0564 0.0260)"/><use href="#gG" transform="translate(3555.00 324.50) scale(0.0564 0.0260)"/><use href="#gG" transform="translate(3578.48 324.20) scale(0.0564 0.0030)"/><use href="#gG" transform="translate(3584.35 324.50) scale(0.0564 0.0150)"/><use href="#gG" transform="translate(3654.81 324.00) scale(0.0564 0.0050)"/><use href="#gG" transform="translate(3707.65 324.50) scale(0.0564 0.0080)"/><use href="#gG" transform="translate(3719.39 324.50) scale(0.0564 0.0250)"/><use href="#gG" transform="translate(3731.14 324.50) scale(0.0564 0.0250)"/><use href="#gG" transform="translate(3778.11 324.50) scale(0.0564 0.0230)"/><use href="#gG" transform="translate(3842.69 323.50) scale(0.0564 0.0100)"/><use href="#gG" transform="translate(3901.40 324.00) scale(0.0564 0.0050)"/><use href="#gG" transform="translate(3919.02 324.50) scale(0.0564 0.0100)"/><use href="#gG" transform="translate(3983.60 324.50) scale(0.0564 0.0100)"/><use href="#gG" transform="translate(4036.44 324.50) scale(0.0564 0.0150)"/><use href="#gG" transform="translate(4042.31 324.50) scale(0.0564 0.0150)"/><use href="#gG" transform="translate(4071.67 324.50) scale(0.0564 0.0150)"/><use href="#gG" transform="translate(4077.54 324.50) scale(0.0564 0.0150)"/><use href="#gG" transform="translate(4112.77 324.20) scale(0.0564 0.0030)"/></g>
<g fill="#008000" stroke="#008000" stroke-width="0.4"><use href="#gT" transform="translate(126.17 324.50) scale(0.0564 0.0590)"/><use href="#gT" transform="translate(149.65 320.80) scale(0.0564 0.0370)"/><use href="#gT" transform="translate(208.36 305.60) scale(0.0564 0.1890)"/><use href="#gT" transform="translate(214.24 315.20) scale(0.0564 0.0930)"/><use href="#gT" transform="translate(225.98 314.40) scale(0.0564 0.1010)"/><use href="#gT" transform="translate(249.46 319.20) scale(0.0564 0.0530)"/><use href="#gT" transform="translate(255.34 316.80) scale(0.0564 0.0770)"/><use href="#gT" transform="translate(272.95 324.50) scale(0.0564 0.1070)"/><use href="#gT" transform="translate(296.43 318.40) scale(0.0564 0.0610)"/><use href="#gT" transform="translate(337.53 316.30) scale(0.0564 0.0820)"/><use href="#gT" transform="translate(372.76 314.10) scale(0.0564 0.1040)"/><use href="#gT" transform="translate(390.37 317.60) scale(0.0564 0.0690)"/><use href="#gT" transform="translate(396.25 324.50) scale(0.0564 0.0910)"/><use href="#gT" transform="translate(413.86 318.90) scale(0.0564 0.0560)"/><use href="#gT" transform="translate(419.73 324.50) scale(0.0564 0.0560)"/><use href="#gT" transform="translate(443.22 324.50) scale(0.0564 0.0590)"/><use href="#gT" transform="translate(449.09 319.20) scale(0.0564 0.0530)"/><use href="#gT" transform="translate(484.32 324.50) scale(0.0564 0.0780)"/><use href="#gT" transform="translate(507.80 312.80) scale(0.0564 0.1170)"/><use href="#gT" transform="translate(560.64 318.40) scale(0.0564 0.0610)"/><use href="#gT" transform="translate(666.33 324.50) scale(0.0564 0.0430)"/><use href="#gT" transform="translate(772.01 324.50) scale(0.0564 0.0670)"/><use href="#gT" transform="translate(801.36 324.50) scale(0.0564 0.0780)"/><use href="#gT" transform="translate(824.85 324.50) scale(0.0564 0.0670)"/><use href="#gT" transform="translate(854.21 320.80) scale(0.0564 0.0370)"/><use href="#gT" transform="translate(877.69 324.50) scale(0.0564 0.0990)"/><use href="#gT" transform="translate(901.18 316.00) scale(0.0564 0.0850)"/><use href="#gT" transform="translate(912.92 324.50) scale(0.0564 0.0430)"/><use href="#gT" transform="translate(954.02 318.40) scale(0.0564 0.0610)"/><use href="#gT" transform="translate(1024.47 324.50) scale(0.0564 0.1540)"/><use href="#gT" transform="translate(1042.09 324.50) scale(0.0564 0.1180)"/><use href="#gT" transform="translate(1053.83 314.70) scale(0.0564 0.0980)"/><use href="#gT" transform="translate(1065.57 324.50) scale(0.0564 0.0990)"/><use href="#gT" transform="translate(1071.44 320.30) scale(0.0564 0.0420)"/><use href="#gT" transform="translate(1106.67 320.30) scale(0.0564 0.0420)"/><use href="#gT" transform="translate(1265.20 319.00) scale(0.0564 0.0550)"/><use href="#gT" transform="translate(1306.30 312.40) scale(0.0564 0.1210)"/><use href="#gT" transform="translate(1388.49 324.50) scale(0.0564 0.0620)"/><use href="#gT" transform="translate(1423.72 324.50) scale(0.0564 0.1260)"/><use href="#gT" transform="translate(1441.33 307.50) scale(0.0564 0.1700)"/><use href="#gT" transform="translate(1458.95 324.50) scale(0.0564 0.0540)"/><use href="#gT" transform="translate(1505.92 324.50) scale(0.0564 0.0380)"/><use href="#gT" transform="translate(1558.76 321.10) scale(0.0564 0.0340)"/><use href="#gT" transform="translate(1564.63 309.90) scale(0.0564 0.1460)"/><use href="#gT" transform="translate(1599.86 317.10) scale(0.0564 0.0740)"/><use href="#gT" transform="translate(1687.93 318.70) scale(0.0564 0.0580)"/><use href="#gT" transform="translate(1723.16 320.30) scale(0.0564 0.0420)"/><use href="#gT" transform="translate(1734.90 324.50) scale(0.0564 0.0540)"/><use href="#gT" transform="translate(1764.26 320.30) scale(0.0564 0.0420)"/><use href="#gT" transform="translate(1781.87 324.50) scale(0.0564 0.0580)"/><use href="#gT" transform="translate(1840.58 324.50) scale(0.0564 0.0380)"/><use href="#gT" transform="translate(1893.42 321.10) scale(0.0564 0.0340)"/><use href="#gT" transform="translate(1946.27 317.50) scale(0.0564 0.0700)"/><use href="#gT" transform="translate(2010.85 324.50) scale(0.0564 0.0380)"/><use href="#gT" transform="translate(2046.08 313.10) scale(0.0564 0.1140)"/><use href="#gT" transform="translate(2098.92 324.50) scale(0.0564 0.0460)"/><use href="#gT" transform="translate(2128.28 324.50) scale(0.0564 0.0380)"/><use href="#gT" transform="translate(2140.02 321.10) scale(0.0564 0.0340)"/><use href="#gT" transform="translate(2163.50 324.50) scale(0.0564 0.0380)"/><use href="#gT" transform="translate(2198.73 318.40) scale(0.0564 0.0610)"/><use href="#gT" transform="translate(2210.47 324.50) scale(0.0564 0.0860)"/><use href="#gT" transform="translate(2345.51 320.30) scale(0.0564 0.0420)"/><use href="#gT" transform="translate(2439.45 321.10) scale(0.0564 0.0340)"/><use href="#gT" transform="translate(2457.07 320.30) scale(0.0564 0.0420)"/><use href="#gT" transform="translate(2492.30 318.70) scale(0.0564 0.0580)"/><use href="#gT" transform="translate(2504.04 324.50) scale(0.0564 0.0780)"/><use href="#gT" transform="translate(2621.46 324.50) scale(0.0564 0.0780)"/><use href="#gT" transform="translate(2680.18 320.30) scale(0.0564 0.0420)"/><use href="#gT" transform="translate(2691.92 324.50) scale(0.0564 0.1340)"/><use href="#gT" transform="translate(2891.54 320.30) scale(0.0564 0.0420)"/><use href="#gT" transform="translate(2973.74 319.50) scale(0.0564 0.0500)"/><use href="#gT" transform="translate(3044.20 320.30) scale(0.0564 0.0420)"/><use href="#gT" transform="translate(3085.29 324.50) scale(0.0564 0.0740)"/><use href="#gT" transform="translate(3091.17 324.50) scale(0.0564 0.0740)"/><use href="#gT" transform="translate(3138.14 320.00) scale(0.0564 0.0450)"/><use href="#gT" transform="translate(3173.36 317.50) scale(0.0564 0.0700)"/><use href="#gT" transform="translate(3220.33 320.30) scale(0.0564 0.0420)"/><use href="#gT" transform="translate(3279.05 324.50) scale(0.0564 0.0460)"/><use href="#gT" transform="translate(3349.50 319.00) scale(0.0564 0.0550)"/><use href="#gT" transform="translate(3402.34 324.50) scale(0.0564 0.0500)"/><use href="#gT" transform="translate(3419.96 324.50) scale(0.0564 0.0990)"/><use href="#gT" transform="translate(3502.16 317.80) scale(0.0564 0.0670)"/><use href="#gT" transform="translate(3549.13 324.50) scale(0.0564 0.0340)"/><use href="#gT" transform="translate(3631.32 317.80) scale(0.0564 0.0670)"/><use href="#gT" transform="translate(3666.55 321.40) scale(0.0564 0.0310)"/><use href="#gT" transform="translate(3760.49 321.00) scale(0.0564 0.0350)"/><use href="#gT" transform="translate(3836.82 293.10) scale(0.0564 0.3140)"/><use href="#gT" transform="translate(3848.56 312.90) scale(0.0564 0.1160)"/><use href="#gT" transform="translate(3889.66 315.20) scale(0.0564 0.0930)"/><use href="#gT" transform="translate(3895.53 302.80) scale(0.0564 0.2170)"/><use href="#gT" transform="translate(3907.27 313.90) scale(0.0564 0.1060)"/><use href="#gT" transform="translate(3913.15 324.50) scale(0.0564 0.3790)"/><use href="#gT" transform="translate(3930.76 320.00) scale(0.0564 0.0450)"/><use href="#gT" transform="translate(3942.50 223.20) scale(0.0564 1.0130)"/><use href="#gT" transform="translate(3948.37 240.70) scale(0.0564 0.8380)"/><use href="#gT" transform="translate(3960.12 240.70) scale(0.0564 0.8380)"/><use href="#gT" transform="translate(4007.09 319.50) scale(0.0564 0.0500)"/><use href="#gT" transform="translate(4018.83 324.50) scale(0.0564 0.0930)"/><use href="#gT" transform="translate(4083.41 324.50) scale(0.0564 0.0680)"/><use href="#gT" transform="translate(4089.28 315.80) scale(0.0564 0.0870)"/><use href="#gT" transform="translate(4124.51 312.10) scale(0.0564 0.1240)"/><use href="#gT" transform="translate(4136.26 324.50) scale(0.0564 0.0560)"/><use href="#gT" transform="translate(4171.48 320.80) scale(0.0564 0.0370)"/><use href="#gT" transform="translate(4183.23 318.30) scale(0.0564 0.0620)"/><use href="#gT" transform="translate(4200.84 321.40) scale(0.0564 0.0310)"/><use href="#gT" transform="translate(4206.71 324.50) scale(0.0564 0.0560)"/></g>
<g fill="#008000"><use href="#gT" transform="translate(102.68 323.50) scale(0.0564 0.0100)"/><use href="#gT" transform="translate(108.55 324.00) scale(0.0564 0.0050)"/><use href="#gT" transform="translate(237.72 324.50) scale(0.0564 0.0240)"/><use href="#gT" transform="translate(243.59 324.50) scale(0.0564 0.0240)"/><use href="#gT" transform="translate(267.08 323.50) scale(0.0564 0.0100)"/><use href="#gT" transform="translate(319.92 324.50) scale(0.0564 0.0240)"/><use href="#gT" transform="translate(472.57 323.50) scale(0.0564 0.0100)"/><use href="#gT" transform="translate(619.35 321.60) scale(0.0564 0.0290)"/><use href="#gT" transform="translate(636.97 323.50) scale(0.0564 0.0100)"/><use href="#gT" transform="translate(654.58 324.50) scale(0.0564 0.0100)"/><use href="#gT" transform="translate(807.24 323.50) scale(0.0564 0.0100)"/><use href="#gT" transform="translate(1000.99 324.50) scale(0.0564 0.0190)"/><use href="#gT" transform="translate(1047.96 324.50) scale(0.0564 0.0140)"/><use href="#gT" transform="translate(1147.77 324.50) scale(0.0564 0.0200)"/><use href="#gT" transform="translate(1153.64 324.50) scale(0.0564 0.0200)"/><use href="#gT" transform="translate(1177.13 324.50) scale(0.0564 0.0150)"/><use href="#gT" transform="translate(1188.87 324.50) scale(0.0564 0.0050)"/><use href="#gT" transform="translate(1253.45 324.00) scale(0.0564 0.0050)"/><use href="#gT" transform="translate(1400.24 324.50) scale(0.0564 0.0050)"/><use href="#gT" transform="translate(1447.21 324.50) scale(0.0564 0.0220)"/><use href="#gT" transform="translate(1470.69 324.20) scale(0.0564 0.0030)"/><use href="#gT" transform="translate(1482.43 323.50) scale(0.0564 0.0100)"/><use href="#gT" transform="translate(1640.96 323.00) scale(0.0564 0.0150)"/><use href="#gT" transform="translate(1740.77 324.50) scale(0.0564 0.0100)"/><use href="#gT" transform="translate(1805.35 324.20) scale(0.0564 0.0030)"/><use href="#gT" transform="translate(1828.84 324.20) scale(0.0564 0.0030)"/><use href="#gT" transform="translate(1934.52 324.20) scale(0.0564 0.0030)"/><use href="#gT" transform="translate(1993.24 324.20) scale(0.0564 0.0030)"/><use href="#gT" transform="translate(2093.05 323.00) scale(0.0564 0.0150)"/><use href="#gT" transform="translate(2228.09 324.20) scale(0.0564 0.0030)"/><use href="#gT" transform="translate(2269.19 324.20) scale(0.0564 0.0030)"/><use href="#gT" transform="translate(2275.06 323.50) scale(0.0564 0.0100)"/><use href="#gT" transform="translate(2357.26 324.20) scale(0.0564 0.0030)"/><use href="#gT" transform="translate(2369.00 324.20) scale(0.0564 0.0030)"/><use href="#gT" transform="translate(2380.74 324.50) scale(0.0564 0.0200)"/><use href="#gT" transform="translate(2392.48 324.20) scale(0.0564 0.0030)"/><use href="#gT" transform="translate(2404.23 324.20) scale(0.0564 0.0030)"/><use href="#gT" transform="translate(2480.55 324.20) scale(0.0564 0.0030)"/><use href="#gT" transform="translate(2498.17 324.20) scale(0.0564 0.0030)"/><use href="#gT" transform="translate(2527.52 324.20) scale(0.0564 0.0030)"/><use href="#gT" transform="translate(2556.88 324.20) scale(0.0564 0.0030)"/><use href="#gT" transform="translate(2574.49 324.50) scale(0.0564 0.0150)"/><use href="#gT" transform="translate(2603.85 324.20) scale(0.0564 0.0030)"/><use href="#gT" transform="translate(2633.21 324.20) scale(0.0564 0.0030)"/><use href="#gT" transform="translate(2656.69 324.20) scale(0.0564 0.0030)"/><use href="#gT" transform="translate(2686.05 324.20) scale(0.0564 0.0030)"/><use href="#gT" transform="translate(2709.53 321.60) scale(0.0564 0.0290)"/><use href="#gT" transform="translate(2721.28 324.20) scale(0.0564 0.0030)"/><use href="#gT" transform="translate(2756.50 324.20) scale(0.0564 0.0030)"/><use href="#gT" transform="translate(2779.99 324.20) scale(0.0564 0.0030)"/><use href="#gT" transform="translate(2785.86 324.20) scale(0.0564 0.0030)"/><use href="#gT" transform="translate(2826.96 322.50) scale(0.0564 0.0200)"/><use href="#gT" transform="translate(2979.61 323.50) scale(0.0564 0.0100)"/><use href="#gT" transform="translate(2985.48 324.20) scale(0.0564 0.0030)"/><use href="#gT" transform="translate(2991.35 324.50) scale(0.0564 0.0200)"/><use href="#gT" transform="translate(3073.55 321.60) scale(0.0564 0.0290)"/><use href="#gT" transform="translate(3097.04 322.30) scale(0.0564 0.0220)"/><use href="#gT" transform="translate(3120.52 324.50) scale(0.0564 0.0250)"/><use href="#gT" transform="translate(3132.27 324.50) scale(0.0564 0.0150)"/><use href="#gT" transform="translate(3155.75 324.50) scale(0.0564 0.0150)"/><use href="#gT" transform="translate(3367.12 324.50) scale(0.0564 0.0260)"/><use href="#gT" transform="translate(3414.09 324.50) scale(0.0564 0.0150)"/><use href="#gT" transform="translate(3455.19 324.20) scale(0.0564 0.0030)"/><use href="#gT" transform="translate(3572.61 324.50) scale(0.0564 0.0260)"/><use href="#gT" transform="translate(3590.23 324.20) scale(0.0564 0.0030)"/><use href="#gT" transform="translate(3684.17 324.20) scale(0.0564 0.0030)"/><use href="#gT" transform="translate(3695.91 324.50) scale(0.0564 0.0100)"/><use href="#gT" transform="translate(3754.62 323.00) scale(0.0564 0.0150)"/><use href="#gT" transform="translate(4012.96 324.20) scale(0.0564 0.0030)"/><use href="#gT" transform="translate(4024.70 324.20) scale(0.0564 0.0030)"/><use href="#gT" transform="translate(4106.90 324.20) scale(0.0564 0.0030)"/></g>
<path d="M105.50 364.50V378.50 M516.49 364.50V378.50 M927.48 364.50V378.50 M1338.47 364.50V378.50 M1749.46 364.50V378.50 M2160.45 364.50V378.50 M2571.44 364.50V378.50 M2982.43 364.50V378.50 M3393.42 364.50V378.50 M3804.41 364.50V378.50 M4215.40 364.50V378.50" stroke="#000" stroke-width="3.33" fill="none"/>
<rect x="103.80" y="388.40" width="4114.70" height="63.00" fill="#f6fcf4"/>
<rect x="3913.03" y="388.40" width="5.87" height="63.00" fill="#d0ebc9"/>
<rect x="103.80" y="388.40" width="4114.70" height="63.00" fill="none" stroke="#000" stroke-width="3.33"/>
<path d="M105.50 452.80V466.40 M516.49 452.80V466.40 M927.48 452.80V466.40 M1338.47 452.80V466.40 M1749.46 452.80V466.40 M2160.45 452.80V466.40 M2571.44 452.80V466.40 M2982.43 452.80V466.40 M3393.42 452.80V466.40 M3804.41 452.80V466.40 M4215.40 452.80V466.40" stroke="#000" stroke-width="3.33" fill="none"/>
<rect x="103.80" y="491.50" width="4114.70" height="63.00" fill="#fff5eb"/>
<rect x="2597.86" y="491.50" width="5.87" height="63.00" fill="#feeedf"/>
<rect x="3408.10" y="491.50" width="5.87" height="63.00" fill="#fdebd9"/>
<rect x="3795.60" y="491.50" width="5.87" height="63.00" fill="#fdebd9"/>
<rect x="103.80" y="491.50" width="4114.70" height="63.00" fill="none" stroke="#000" stroke-width="3.33"/>
<path d="M105.50 555.50V569.20 M516.49 555.50V569.20 M927.48 555.50V569.20 M1338.47 555.50V569.20 M1749.46 555.50V569.20 M2160.45 555.50V569.20 M2571.44 555.50V569.20 M2982.43 555.50V569.20 M3393.42 555.50V569.20 M3804.41 555.50V569.20 M4215.40 555.50V569.20" stroke="#000" stroke-width="3.33" fill="none"/>
<text x="102.86" y="609.20" font-size="21.51" fill="#808080" stroke="#808080" stroke-width="0.75" textLength="4115.47" lengthAdjust="spacingAndGlyphs">TTGATGAGTGAAAAACCGTTCTCTTTTATTCAGTCAATCGTGGCGGTAATTGCTTCAATTGCATATCCCTGGCGAGCATAAGCGGGACTGATGGTATAGCCGAGCCAAAACACATCGCATTGCTGACGTAAATAGATATCACCAATCAAAACCTGCGTCATTTGTTGACAATGGCCAATTGAATATCGCGAGCAAGTGTAAGAACTCCCAGCAAGACCCTGTAAATAATTCTGTGTAACTGCCCACGATTAAAGGTGGCCGCTCAGGCGGTCACCGTATTCGATAATAAATGGGTCTGGAAAAAGTGCAGCATCTGGCAGCGTAATGCAGGTAGCCCAGTTCAACTCTCACTACCAGTATGATCCCAAGTTCGAGCGCGGAATGTATCTGTATGAGCATCGTCGCTGTTTCAATAACATCATCGACTACTGTAACTCACTTTGCTATCACGGTAAGTTGCAGCCTAAAAGAGGGATGGAAAAAGGACGATTTTCCCCGCAATGGGATATTTACATATTGATGGTAGAGGCATGAAGCCAAATGGAGGGAGCCGTCATAACCCTCTTGAAGCTGAAACAATAGCAGCATGGCTGGTGGCACATAAGGATGATATAGAGCGCCATTACGGGGAACCACTGTACAAAGTTGTTGGTGTTGTGACGCCATTTTCGGCGCAGGTTAATGCTATCAAAATGTCATTG</text>
<path d="M105.50 611.00V625.80 M516.49 611.00V625.80 M927.48 611.00V625.80 M1338.47 611.00V625.80 M1749.46 611.00V625.80 M2160.45 611.00V625.80 M2571.44 611.00V625.80 M2982.43 611.00V625.80 M3393.42 611.00V625.80 M3804.41 611.00V625.80 M4215.40 611.00V625.80" stroke="#000" stroke-width="3.33" fill="none"/>
<text transform="translate(105.50,670.70) scale(1.0000,1)" font-size="44.5" text-anchor="middle" textLength="183" lengthAdjust="spacingAndGlyphs">4534515</text>
<text transform="translate(516.49,670.70) scale(1.0000,1)" font-size="44.5" text-anchor="middle" textLength="183" lengthAdjust="spacingAndGlyphs">4534585</text>
<text transform="translate(927.48,670.70) scale(1.0000,1)" font-size="44.5" text-anchor="middle" textLength="183" lengthAdjust="spacingAndGlyphs">4534655</text>
<text transform="translate(1338.47,670.70) scale(1.0000,1)" font-size="44.5" text-anchor="middle" textLength="183" lengthAdjust="spacingAndGlyphs">4534725</text>
<text transform="translate(1749.46,670.70) scale(1.0000,1)" font-size="44.5" text-anchor="middle" textLength="183" lengthAdjust="spacingAndGlyphs">4534795</text>
<text transform="translate(2160.45,670.70) scale(1.0000,1)" font-size="44.5" text-anchor="middle" textLength="183" lengthAdjust="spacingAndGlyphs">4534865</text>
<text transform="translate(2571.44,670.70) scale(1.0000,1)" font-size="44.5" text-anchor="middle" textLength="183" lengthAdjust="spacingAndGlyphs">4534935</text>
<text transform="translate(2982.43,670.70) scale(1.0000,1)" font-size="44.5" text-anchor="middle" textLength="183" lengthAdjust="spacingAndGlyphs">4535005</text>
<text transform="translate(3393.42,670.70) scale(1.0000,1)" font-size="44.5" text-anchor="middle" textLength="183" lengthAdjust="spacingAndGlyphs">4535075</text>
<text transform="translate(3804.41,670.70) scale(1.0000,1)" font-size="44.5" text-anchor="middle" textLength="183" lengthAdjust="spacingAndGlyphs">4535145</text>
<text transform="translate(4215.40,670.70) scale(1.0000,1)" font-size="44.5" text-anchor="middle" textLength="183" lengthAdjust="spacingAndGlyphs">4535215</text>
<text x="2171.8" y="749" font-size="50" text-anchor="middle">fimZ (percentile 0.21, rank 139)</text>
<path d="M130.6 773.3V1008.3 M115.6 842.1H130.6 M115.6 911.65H130.6 M115.6 981.2H130.6" stroke="#000" stroke-width="3.33" fill="none"/>
<text transform="translate(99.90,858.30) scale(1.0500,1)" font-size="44.5" text-anchor="end" >50</text>
<text transform="translate(100.90,927.60) scale(1.0500,1)" font-size="44.5" text-anchor="end" >0</text>
<text transform="translate(99.90,997.20) scale(1.0500,1)" font-size="44.5" text-anchor="end" >50</text>
<rect x="16.8" y="979.8" width="26.3" height="3.6" fill="#000"/>
<g fill="#ff0000" stroke="#ff0000" stroke-width="0.4"><use href="#gA" transform="translate(187.83 907.35) scale(0.0560 0.0430)"/><use href="#gA" transform="translate(193.66 911.65) scale(0.0560 0.0840)"/><use href="#gA" transform="translate(310.32 908.15) scale(0.0560 0.0350)"/><use href="#gA" transform="translate(456.15 907.35) scale(0.0560 0.0430)"/><use href="#gA" transform="translate(461.98 911.65) scale(0.0560 0.1480)"/><use href="#gA" transform="translate(561.14 907.35) scale(0.0560 0.0430)"/><use href="#gA" transform="translate(596.14 907.35) scale(0.0560 0.0430)"/><use href="#gA" transform="translate(695.30 908.15) scale(0.0560 0.0350)"/><use href="#gA" transform="translate(776.96 911.65) scale(0.0560 0.0410)"/><use href="#gA" transform="translate(788.63 911.65) scale(0.0560 0.0570)"/><use href="#gA" transform="translate(916.96 911.65) scale(0.0560 0.0600)"/><use href="#gA" transform="translate(928.62 908.15) scale(0.0560 0.0350)"/><use href="#gA" transform="translate(963.62 903.55) scale(0.0560 0.0810)"/><use href="#gA" transform="translate(969.45 911.65) scale(0.0560 0.0460)"/><use href="#gA" transform="translate(986.95 911.65) scale(0.0560 0.1020)"/><use href="#gA" transform="translate(998.62 902.75) scale(0.0560 0.0890)"/><use href="#gA" transform="translate(1004.45 911.65) scale(0.0560 0.0300)"/><use href="#gA" transform="translate(1056.95 903.55) scale(0.0560 0.0810)"/><use href="#gA" transform="translate(1103.61 905.15) scale(0.0560 0.0650)"/><use href="#gA" transform="translate(1115.28 903.55) scale(0.0560 0.0810)"/><use href="#gA" transform="translate(1121.11 903.55) scale(0.0560 0.0810)"/><use href="#gA" transform="translate(1156.11 911.65) scale(0.0560 0.0620)"/><use href="#gA" transform="translate(1161.94 905.65) scale(0.0560 0.0600)"/><use href="#gA" transform="translate(1191.11 911.65) scale(0.0560 0.1020)"/><use href="#gA" transform="translate(1202.77 905.95) scale(0.0560 0.0570)"/><use href="#gA" transform="translate(1237.77 882.65) scale(0.0560 0.2900)"/><use href="#gA" transform="translate(1255.27 896.65) scale(0.0560 0.1500)"/><use href="#gA" transform="translate(1261.10 911.65) scale(0.0560 0.4300)"/><use href="#gA" transform="translate(1290.27 911.65) scale(0.0560 0.0590)"/><use href="#gA" transform="translate(1296.10 865.15) scale(0.0560 0.4650)"/><use href="#gA" transform="translate(1307.77 866.15) scale(0.0560 0.4550)"/><use href="#gA" transform="translate(1313.60 785.95) scale(0.0560 1.2570)"/><use href="#gA" transform="translate(1348.60 846.55) scale(0.0560 0.6510)"/><use href="#gA" transform="translate(1366.10 885.65) scale(0.0560 0.2600)"/><use href="#gA" transform="translate(1371.93 866.15) scale(0.0560 0.4550)"/><use href="#gA" transform="translate(1383.60 884.25) scale(0.0560 0.2740)"/><use href="#gA" transform="translate(1430.26 906.75) scale(0.0560 0.0490)"/><use href="#gA" transform="translate(1436.09 897.65) scale(0.0560 0.1400)"/><use href="#gA" transform="translate(1447.76 899.05) scale(0.0560 0.1260)"/><use href="#gA" transform="translate(1453.59 864.15) scale(0.0560 0.4750)"/><use href="#gA" transform="translate(1506.09 898.35) scale(0.0560 0.1330)"/><use href="#gA" transform="translate(1511.92 890.65) scale(0.0560 0.2100)"/><use href="#gA" transform="translate(1669.41 890.85) scale(0.0560 0.2080)"/><use href="#gA" transform="translate(1716.08 911.65) scale(0.0560 0.3240)"/><use href="#gA" transform="translate(1745.24 886.05) scale(0.0560 0.2560)"/><use href="#gA" transform="translate(1774.41 911.65) scale(0.0560 0.0460)"/><use href="#gA" transform="translate(1786.07 911.65) scale(0.0560 0.0590)"/><use href="#gA" transform="translate(1791.91 902.45) scale(0.0560 0.0920)"/><use href="#gA" transform="translate(1809.40 907.25) scale(0.0560 0.0440)"/><use href="#gA" transform="translate(1891.07 901.65) scale(0.0560 0.1000)"/><use href="#gA" transform="translate(1896.90 911.65) scale(0.0560 0.0900)"/><use href="#gA" transform="translate(1943.56 901.65) scale(0.0560 0.1000)"/><use href="#gA" transform="translate(1984.39 908.65) scale(0.0560 0.0300)"/><use href="#gA" transform="translate(2042.72 911.65) scale(0.0560 0.0300)"/><use href="#gA" transform="translate(2124.39 911.65) scale(0.0560 0.0350)"/><use href="#gA" transform="translate(2130.22 908.15) scale(0.0560 0.0350)"/><use href="#gA" transform="translate(2200.22 896.05) scale(0.0560 0.1560)"/><use href="#gA" transform="translate(2264.38 911.65) scale(0.0560 0.0350)"/><use href="#gA" transform="translate(2346.04 907.25) scale(0.0560 0.0440)"/><use href="#gA" transform="translate(2375.21 911.65) scale(0.0560 0.1300)"/><use href="#gA" transform="translate(2410.20 904.85) scale(0.0560 0.0680)"/><use href="#gA" transform="translate(2427.70 907.95) scale(0.0560 0.0370)"/><use href="#gA" transform="translate(2544.36 906.45) scale(0.0560 0.0520)"/><use href="#gA" transform="translate(2550.20 906.45) scale(0.0560 0.0520)"/><use href="#gA" transform="translate(2561.86 911.65) scale(0.0560 0.0350)"/><use href="#gA" transform="translate(2602.69 905.15) scale(0.0560 0.0650)"/><use href="#gA" transform="translate(2620.19 902.45) scale(0.0560 0.0920)"/><use href="#gA" transform="translate(2649.36 911.65) scale(0.0560 0.2410)"/><use href="#gA" transform="translate(2678.52 897.65) scale(0.0560 0.1400)"/><use href="#gA" transform="translate(2871.01 911.65) scale(0.0560 0.0300)"/><use href="#gA" transform="translate(2929.34 911.65) scale(0.0560 0.0300)"/><use href="#gA" transform="translate(2941.01 907.75) scale(0.0560 0.0390)"/><use href="#gA" transform="translate(3075.17 904.05) scale(0.0560 0.0760)"/><use href="#gA" transform="translate(3110.16 911.65) scale(0.0560 0.2490)"/><use href="#gA" transform="translate(3133.50 903.25) scale(0.0560 0.0840)"/><use href="#gA" transform="translate(3156.83 911.65) scale(0.0560 0.1620)"/><use href="#gA" transform="translate(3185.99 902.45) scale(0.0560 0.0920)"/><use href="#gA" transform="translate(3197.66 911.65) scale(0.0560 0.0510)"/><use href="#gA" transform="translate(3244.32 911.65) scale(0.0560 0.0430)"/><use href="#gA" transform="translate(3302.65 911.65) scale(0.0560 0.0510)"/><use href="#gA" transform="translate(3325.98 902.45) scale(0.0560 0.0920)"/><use href="#gA" transform="translate(3378.48 902.45) scale(0.0560 0.0920)"/><use href="#gA" transform="translate(3436.81 906.75) scale(0.0560 0.0490)"/><use href="#gA" transform="translate(3442.64 911.65) scale(0.0560 0.1060)"/><use href="#gA" transform="translate(3483.48 911.65) scale(0.0560 0.0510)"/><use href="#gA" transform="translate(3495.14 896.85) scale(0.0560 0.1480)"/><use href="#gA" transform="translate(3500.97 911.65) scale(0.0560 0.0670)"/><use href="#gA" transform="translate(3512.64 907.95) scale(0.0560 0.0370)"/><use href="#gA" transform="translate(3530.14 904.85) scale(0.0560 0.0680)"/><use href="#gA" transform="translate(3547.64 905.65) scale(0.0560 0.0600)"/><use href="#gA" transform="translate(3617.63 911.65) scale(0.0560 0.0590)"/><use href="#gA" transform="translate(3681.80 906.75) scale(0.0560 0.0490)"/><use href="#gA" transform="translate(3693.46 911.65) scale(0.0560 0.0830)"/><use href="#gA" transform="translate(3705.13 911.65) scale(0.0560 0.0830)"/><use href="#gA" transform="translate(3804.29 907.75) scale(0.0560 0.0390)"/><use href="#gA" transform="translate(3880.12 906.65) scale(0.0560 0.0500)"/><use href="#gA" transform="translate(4101.77 898.85) scale(0.0560 0.1280)"/><use href="#gA" transform="translate(4130.94 911.65) scale(0.0560 0.0740)"/><use href="#gA" transform="translate(4160.10 906.65) scale(0.0560 0.0500)"/></g>
<g fill="#ff0000"><use href="#gA" transform="translate(147.00 911.65) scale(0.0560 0.0050)"/><use href="#gA" transform="translate(164.50 908.95) scale(0.0560 0.0270)"/><use href="#gA" transform="translate(199.50 910.05) scale(0.0560 0.0160)"/><use href="#gA" transform="translate(205.33 911.65) scale(0.0560 0.0250)"/><use href="#gA" transform="translate(211.16 911.65) scale(0.0560 0.0250)"/><use href="#gA" transform="translate(286.99 910.15) scale(0.0560 0.0150)"/><use href="#gA" transform="translate(333.66 910.15) scale(0.0560 0.0150)"/><use href="#gA" transform="translate(339.49 911.15) scale(0.0560 0.0050)"/><use href="#gA" transform="translate(403.65 908.95) scale(0.0560 0.0270)"/><use href="#gA" transform="translate(409.48 908.95) scale(0.0560 0.0270)"/><use href="#gA" transform="translate(491.15 911.15) scale(0.0560 0.0050)"/><use href="#gA" transform="translate(502.81 910.65) scale(0.0560 0.0100)"/><use href="#gA" transform="translate(578.64 911.15) scale(0.0560 0.0050)"/><use href="#gA" transform="translate(590.31 911.65) scale(0.0560 0.0290)"/><use href="#gA" transform="translate(631.14 908.95) scale(0.0560 0.0270)"/><use href="#gA" transform="translate(654.47 911.35) scale(0.0560 0.0030)"/><use href="#gA" transform="translate(683.64 911.65) scale(0.0560 0.0290)"/><use href="#gA" transform="translate(724.47 911.35) scale(0.0560 0.0030)"/><use href="#gA" transform="translate(747.80 910.15) scale(0.0560 0.0150)"/><use href="#gA" transform="translate(753.63 910.65) scale(0.0560 0.0100)"/><use href="#gA" transform="translate(759.46 909.65) scale(0.0560 0.0200)"/><use href="#gA" transform="translate(765.30 909.65) scale(0.0560 0.0200)"/><use href="#gA" transform="translate(817.79 911.35) scale(0.0560 0.0030)"/><use href="#gA" transform="translate(858.63 911.35) scale(0.0560 0.0030)"/><use href="#gA" transform="translate(881.96 910.15) scale(0.0560 0.0150)"/><use href="#gA" transform="translate(887.79 910.15) scale(0.0560 0.0150)"/><use href="#gA" transform="translate(893.62 910.15) scale(0.0560 0.0150)"/><use href="#gA" transform="translate(905.29 911.35) scale(0.0560 0.0030)"/><use href="#gA" transform="translate(946.12 911.35) scale(0.0560 0.0030)"/><use href="#gA" transform="translate(992.78 910.65) scale(0.0560 0.0100)"/><use href="#gA" transform="translate(1185.27 909.65) scale(0.0560 0.0200)"/><use href="#gA" transform="translate(1424.43 910.15) scale(0.0560 0.0150)"/><use href="#gA" transform="translate(1552.75 909.15) scale(0.0560 0.0250)"/><use href="#gA" transform="translate(1570.25 910.15) scale(0.0560 0.0150)"/><use href="#gA" transform="translate(1587.75 911.65) scale(0.0560 0.0250)"/><use href="#gA" transform="translate(1593.58 910.15) scale(0.0560 0.0150)"/><use href="#gA" transform="translate(1599.42 911.65) scale(0.0560 0.0250)"/><use href="#gA" transform="translate(1803.57 908.75) scale(0.0560 0.0290)"/><use href="#gA" transform="translate(1815.24 909.15) scale(0.0560 0.0250)"/><use href="#gA" transform="translate(1873.57 910.15) scale(0.0560 0.0150)"/><use href="#gA" transform="translate(1879.40 911.35) scale(0.0560 0.0030)"/><use href="#gA" transform="translate(1885.23 909.15) scale(0.0560 0.0250)"/><use href="#gA" transform="translate(1926.06 910.15) scale(0.0560 0.0150)"/><use href="#gA" transform="translate(2013.56 909.65) scale(0.0560 0.0200)"/><use href="#gA" transform="translate(2019.39 909.65) scale(0.0560 0.0200)"/><use href="#gA" transform="translate(2066.06 909.65) scale(0.0560 0.0200)"/><use href="#gA" transform="translate(2095.22 910.65) scale(0.0560 0.0100)"/><use href="#gA" transform="translate(2165.22 911.35) scale(0.0560 0.0030)"/><use href="#gA" transform="translate(2182.72 911.35) scale(0.0560 0.0030)"/><use href="#gA" transform="translate(2217.71 911.35) scale(0.0560 0.0030)"/><use href="#gA" transform="translate(2235.21 911.35) scale(0.0560 0.0030)"/><use href="#gA" transform="translate(2270.21 909.15) scale(0.0560 0.0250)"/><use href="#gA" transform="translate(2305.21 911.65) scale(0.0560 0.0270)"/><use href="#gA" transform="translate(2351.87 910.15) scale(0.0560 0.0150)"/><use href="#gA" transform="translate(2445.20 909.15) scale(0.0560 0.0250)"/><use href="#gA" transform="translate(2526.86 911.65) scale(0.0560 0.0250)"/><use href="#gA" transform="translate(2532.70 911.65) scale(0.0560 0.0250)"/><use href="#gA" transform="translate(2579.36 911.35) scale(0.0560 0.0030)"/><use href="#gA" transform="translate(2655.19 910.15) scale(0.0560 0.0150)"/><use href="#gA" transform="translate(2725.19 911.35) scale(0.0560 0.0030)"/><use href="#gA" transform="translate(2742.68 909.15) scale(0.0560 0.0250)"/><use href="#gA" transform="translate(2771.85 910.15) scale(0.0560 0.0150)"/><use href="#gA" transform="translate(2777.68 909.65) scale(0.0560 0.0200)"/><use href="#gA" transform="translate(2812.68 911.35) scale(0.0560 0.0030)"/><use href="#gA" transform="translate(2841.85 911.65) scale(0.0560 0.0200)"/><use href="#gA" transform="translate(2847.68 910.65) scale(0.0560 0.0100)"/><use href="#gA" transform="translate(2853.51 911.65) scale(0.0560 0.0200)"/><use href="#gA" transform="translate(2859.34 911.35) scale(0.0560 0.0030)"/><use href="#gA" transform="translate(2894.34 909.65) scale(0.0560 0.0200)"/><use href="#gA" transform="translate(2917.67 909.65) scale(0.0560 0.0200)"/><use href="#gA" transform="translate(2923.51 911.65) scale(0.0560 0.0150)"/><use href="#gA" transform="translate(2935.17 910.15) scale(0.0560 0.0150)"/><use href="#gA" transform="translate(2958.51 911.65) scale(0.0560 0.0150)"/><use href="#gA" transform="translate(2976.00 910.65) scale(0.0560 0.0100)"/><use href="#gA" transform="translate(3040.17 909.15) scale(0.0560 0.0250)"/><use href="#gA" transform="translate(3046.00 911.35) scale(0.0560 0.0030)"/><use href="#gA" transform="translate(3086.83 910.85) scale(0.0560 0.0080)"/><use href="#gA" transform="translate(3121.83 908.75) scale(0.0560 0.0290)"/><use href="#gA" transform="translate(3220.99 911.35) scale(0.0560 0.0030)"/><use href="#gA" transform="translate(3238.49 910.15) scale(0.0560 0.0150)"/><use href="#gA" transform="translate(3267.65 911.35) scale(0.0560 0.0030)"/><use href="#gA" transform="translate(3273.49 910.65) scale(0.0560 0.0100)"/><use href="#gA" transform="translate(3279.32 910.15) scale(0.0560 0.0150)"/><use href="#gA" transform="translate(3366.82 911.35) scale(0.0560 0.0030)"/><use href="#gA" transform="translate(3384.31 910.65) scale(0.0560 0.0100)"/><use href="#gA" transform="translate(3471.81 909.65) scale(0.0560 0.0200)"/><use href="#gA" transform="translate(3477.64 909.15) scale(0.0560 0.0250)"/><use href="#gA" transform="translate(3629.30 910.15) scale(0.0560 0.0150)"/><use href="#gA" transform="translate(3640.97 910.65) scale(0.0560 0.0100)"/><use href="#gA" transform="translate(3646.80 910.15) scale(0.0560 0.0150)"/><use href="#gA" transform="translate(3664.30 909.65) scale(0.0560 0.0200)"/><use href="#gA" transform="translate(3716.80 911.35) scale(0.0560 0.0030)"/><use href="#gA" transform="translate(3751.79 909.15) scale(0.0560 0.0250)"/><use href="#gA" transform="translate(3769.29 911.65) scale(0.0560 0.0150)"/><use href="#gA" transform="translate(3810.12 911.35) scale(0.0560 0.0030)"/><use href="#gA" transform="translate(3827.62 910.65) scale(0.0560 0.0100)"/><use href="#gA" transform="translate(3856.79 911.65) scale(0.0560 0.0200)"/><use href="#gA" transform="translate(3868.45 910.15) scale(0.0560 0.0150)"/><use href="#gA" transform="translate(3874.29 911.35) scale(0.0560 0.0030)"/><use href="#gA" transform="translate(3973.45 911.65) scale(0.0560 0.0150)"/><use href="#gA" transform="translate(4002.61 909.15) scale(0.0560 0.0250)"/><use href="#gA" transform="translate(4066.78 910.15) scale(0.0560 0.0150)"/><use href="#gA" transform="translate(4095.94 910.65) scale(0.0560 0.0100)"/><use href="#gA" transform="translate(4148.44 909.15) scale(0.0560 0.0250)"/><use href="#gA" transform="translate(4154.27 909.15) scale(0.0560 0.0250)"/><use href="#gA" transform="translate(4165.94 911.65) scale(0.0560 0.0260)"/><use href="#gA" transform="translate(4195.10 911.35) scale(0.0560 0.0030)"/></g>
<g fill="#0000ff" stroke="#0000ff" stroke-width="0.4"><use href="#gC" transform="translate(217.00 911.65) scale(0.0560 0.0480)"/><use href="#gC" transform="translate(222.83 911.65) scale(0.0560 0.0640)"/><use href="#gC" transform="translate(257.83 911.65) scale(0.0560 0.0480)"/><use href="#gC" transform="translate(432.82 899.45) scale(0.0560 0.1220)"/><use href="#gC" transform="translate(485.31 901.05) scale(0.0560 0.1060)"/><use href="#gC" transform="translate(526.14 892.25) scale(0.0560 0.1940)"/><use href="#gC" transform="translate(549.48 911.65) scale(0.0560 0.0370)"/><use href="#gC" transform="translate(706.97 911.65) scale(0.0560 0.0370)"/><use href="#gC" transform="translate(712.80 908.15) scale(0.0560 0.0350)"/><use href="#gC" transform="translate(811.96 906.55) scale(0.0560 0.0510)"/><use href="#gC" transform="translate(940.29 911.65) scale(0.0560 0.0480)"/><use href="#gC" transform="translate(981.12 907.55) scale(0.0560 0.0410)"/><use href="#gC" transform="translate(1016.12 907.55) scale(0.0560 0.0410)"/><use href="#gC" transform="translate(1033.62 911.65) scale(0.0560 0.1490)"/><use href="#gC" transform="translate(1051.11 898.75) scale(0.0560 0.1290)"/><use href="#gC" transform="translate(1144.44 901.15) scale(0.0560 0.1050)"/><use href="#gC" transform="translate(1150.28 905.95) scale(0.0560 0.0570)"/><use href="#gC" transform="translate(1214.44 911.65) scale(0.0560 0.2000)"/><use href="#gC" transform="translate(1226.10 911.65) scale(0.0560 0.1500)"/><use href="#gC" transform="translate(1249.44 911.65) scale(0.0560 0.2580)"/><use href="#gC" transform="translate(1319.43 911.65) scale(0.0560 0.1770)"/><use href="#gC" transform="translate(1331.10 842.95) scale(0.0560 0.6870)"/><use href="#gC" transform="translate(1336.93 911.65) scale(0.0560 0.9410)"/><use href="#gC" transform="translate(1342.76 911.65) scale(0.0560 0.5080)"/><use href="#gC" transform="translate(1360.26 907.65) scale(0.0560 0.0400)"/><use href="#gC" transform="translate(1389.43 818.65) scale(0.0560 0.9300)"/><use href="#gC" transform="translate(1395.26 868.95) scale(0.0560 0.4270)"/><use href="#gC" transform="translate(1401.09 773.95) scale(0.0560 1.3770)"/><use href="#gC" transform="translate(1471.09 876.05) scale(0.0560 0.3560)"/><use href="#gC" transform="translate(1517.75 911.65) scale(0.0560 0.2310)"/><use href="#gC" transform="translate(1535.25 882.35) scale(0.0560 0.2930)"/><use href="#gC" transform="translate(1541.09 846.15) scale(0.0560 0.6550)"/><use href="#gC" transform="translate(1546.92 900.45) scale(0.0560 0.1120)"/><use href="#gC" transform="translate(1558.59 911.65) scale(0.0560 0.0300)"/><use href="#gC" transform="translate(1663.58 911.65) scale(0.0560 0.1730)"/><use href="#gC" transform="translate(1710.24 890.85) scale(0.0560 0.2080)"/><use href="#gC" transform="translate(1721.91 894.85) scale(0.0560 0.1680)"/><use href="#gC" transform="translate(1727.74 902.75) scale(0.0560 0.0890)"/><use href="#gC" transform="translate(1762.74 904.85) scale(0.0560 0.0680)"/><use href="#gC" transform="translate(1937.73 911.65) scale(0.0560 0.0670)"/><use href="#gC" transform="translate(1955.23 911.65) scale(0.0560 0.0590)"/><use href="#gC" transform="translate(1978.56 907.95) scale(0.0560 0.0370)"/><use href="#gC" transform="translate(1996.06 911.65) scale(0.0560 0.0460)"/><use href="#gC" transform="translate(2036.89 911.65) scale(0.0560 0.0350)"/><use href="#gC" transform="translate(2077.72 897.65) scale(0.0560 0.1400)"/><use href="#gC" transform="translate(2083.56 904.05) scale(0.0560 0.0760)"/><use href="#gC" transform="translate(2089.39 891.35) scale(0.0560 0.2030)"/><use href="#gC" transform="translate(2136.05 911.65) scale(0.0560 0.0460)"/><use href="#gC" transform="translate(2188.55 911.65) scale(0.0560 0.0590)"/><use href="#gC" transform="translate(2194.38 911.65) scale(0.0560 0.1300)"/><use href="#gC" transform="translate(2252.71 893.75) scale(0.0560 0.1790)"/><use href="#gC" transform="translate(2293.54 903.25) scale(0.0560 0.0840)"/><use href="#gC" transform="translate(2328.54 911.65) scale(0.0560 0.0900)"/><use href="#gC" transform="translate(2386.87 897.65) scale(0.0560 0.1400)"/><use href="#gC" transform="translate(2439.37 911.65) scale(0.0560 0.0900)"/><use href="#gC" transform="translate(2456.87 911.65) scale(0.0560 0.2330)"/><use href="#gC" transform="translate(2474.37 911.65) scale(0.0560 0.0590)"/><use href="#gC" transform="translate(2486.03 904.05) scale(0.0560 0.0760)"/><use href="#gC" transform="translate(2521.03 902.45) scale(0.0560 0.0920)"/><use href="#gC" transform="translate(2556.03 911.65) scale(0.0560 0.0750)"/><use href="#gC" transform="translate(2591.03 911.65) scale(0.0560 0.0670)"/><use href="#gC" transform="translate(2626.02 911.65) scale(0.0560 0.0430)"/><use href="#gC" transform="translate(2661.02 899.25) scale(0.0560 0.1240)"/><use href="#gC" transform="translate(3011.00 902.45) scale(0.0560 0.0920)"/><use href="#gC" transform="translate(3016.84 908.65) scale(0.0560 0.0300)"/><use href="#gC" transform="translate(3034.33 911.65) scale(0.0560 0.0510)"/><use href="#gC" transform="translate(3116.00 893.35) scale(0.0560 0.1830)"/><use href="#gC" transform="translate(3215.16 911.65) scale(0.0560 0.0350)"/><use href="#gC" transform="translate(3337.65 911.65) scale(0.0560 0.1220)"/><use href="#gC" transform="translate(3360.98 905.65) scale(0.0560 0.0600)"/><use href="#gC" transform="translate(3390.15 911.65) scale(0.0560 0.0590)"/><use href="#gC" transform="translate(3401.81 911.65) scale(0.0560 0.0350)"/><use href="#gC" transform="translate(3454.31 911.65) scale(0.0560 0.0300)"/><use href="#gC" transform="translate(3489.31 904.85) scale(0.0560 0.0680)"/><use href="#gC" transform="translate(3524.31 911.65) scale(0.0560 0.0670)"/><use href="#gC" transform="translate(3570.97 904.05) scale(0.0560 0.0760)"/><use href="#gC" transform="translate(3728.46 911.65) scale(0.0560 0.1300)"/><use href="#gC" transform="translate(3745.96 911.65) scale(0.0560 0.0430)"/><use href="#gC" transform="translate(3815.96 911.65) scale(0.0560 0.0660)"/><use href="#gC" transform="translate(3821.79 911.65) scale(0.0560 0.0300)"/><use href="#gC" transform="translate(3990.95 911.65) scale(0.0560 0.0580)"/><use href="#gC" transform="translate(4031.78 904.55) scale(0.0560 0.0710)"/><use href="#gC" transform="translate(4060.94 911.65) scale(0.0560 0.0820)"/><use href="#gC" transform="translate(4142.60 911.65) scale(0.0560 0.0530)"/><use href="#gC" transform="translate(4189.27 897.25) scale(0.0560 0.1440)"/></g>
<g fill="#0000ff"><use href="#gC" transform="translate(246.16 911.65) scale(0.0560 0.0080)"/><use href="#gC" transform="translate(304.49 911.35) scale(0.0560 0.0030)"/><use href="#gC" transform="translate(327.82 910.65) scale(0.0560 0.0100)"/><use href="#gC" transform="translate(351.15 910.45) scale(0.0560 0.0120)"/><use href="#gC" transform="translate(380.32 910.15) scale(0.0560 0.0150)"/><use href="#gC" transform="translate(450.32 910.15) scale(0.0560 0.0150)"/><use href="#gC" transform="translate(514.48 911.65) scale(0.0560 0.0100)"/><use href="#gC" transform="translate(520.31 910.15) scale(0.0560 0.0150)"/><use href="#gC" transform="translate(572.81 911.65) scale(0.0560 0.0210)"/><use href="#gC" transform="translate(607.81 911.65) scale(0.0560 0.0290)"/><use href="#gC" transform="translate(636.97 911.15) scale(0.0560 0.0050)"/><use href="#gC" transform="translate(736.13 911.65) scale(0.0560 0.0210)"/><use href="#gC" transform="translate(741.97 911.65) scale(0.0560 0.0210)"/><use href="#gC" transform="translate(771.13 910.65) scale(0.0560 0.0100)"/><use href="#gC" transform="translate(782.80 910.65) scale(0.0560 0.0100)"/><use href="#gC" transform="translate(800.30 911.15) scale(0.0560 0.0050)"/><use href="#gC" transform="translate(841.13 908.95) scale(0.0560 0.0270)"/><use href="#gC" transform="translate(864.46 911.35) scale(0.0560 0.0030)"/><use href="#gC" transform="translate(951.95 911.65) scale(0.0560 0.0100)"/><use href="#gC" transform="translate(957.79 911.65) scale(0.0560 0.0220)"/><use href="#gC" transform="translate(1010.28 910.65) scale(0.0560 0.0100)"/><use href="#gC" transform="translate(1109.44 911.65) scale(0.0560 0.0050)"/><use href="#gC" transform="translate(1634.41 911.65) scale(0.0560 0.0100)"/><use href="#gC" transform="translate(1640.25 911.35) scale(0.0560 0.0030)"/><use href="#gC" transform="translate(1651.91 910.15) scale(0.0560 0.0150)"/><use href="#gC" transform="translate(1686.91 911.15) scale(0.0560 0.0050)"/><use href="#gC" transform="translate(1850.24 911.65) scale(0.0560 0.0150)"/><use href="#gC" transform="translate(1920.23 911.35) scale(0.0560 0.0030)"/><use href="#gC" transform="translate(2118.55 911.35) scale(0.0560 0.0030)"/><use href="#gC" transform="translate(2147.72 909.65) scale(0.0560 0.0200)"/><use href="#gC" transform="translate(2159.38 911.15) scale(0.0560 0.0050)"/><use href="#gC" transform="translate(2171.05 911.65) scale(0.0560 0.0100)"/><use href="#gC" transform="translate(2246.88 911.65) scale(0.0560 0.0150)"/><use href="#gC" transform="translate(2258.55 911.65) scale(0.0560 0.0150)"/><use href="#gC" transform="translate(2316.88 911.35) scale(0.0560 0.0030)"/><use href="#gC" transform="translate(2573.53 911.65) scale(0.0560 0.0200)"/><use href="#gC" transform="translate(2608.53 911.35) scale(0.0560 0.0030)"/><use href="#gC" transform="translate(2672.69 911.65) scale(0.0560 0.0150)"/><use href="#gC" transform="translate(2684.35 911.65) scale(0.0560 0.0150)"/><use href="#gC" transform="translate(2713.52 911.15) scale(0.0560 0.0050)"/><use href="#gC" transform="translate(2736.85 910.15) scale(0.0560 0.0150)"/><use href="#gC" transform="translate(2748.52 911.65) scale(0.0560 0.0270)"/><use href="#gC" transform="translate(2806.85 911.35) scale(0.0560 0.0030)"/><use href="#gC" transform="translate(2824.35 910.65) scale(0.0560 0.0100)"/><use href="#gC" transform="translate(2830.18 910.65) scale(0.0560 0.0100)"/><use href="#gC" transform="translate(2964.34 911.65) scale(0.0560 0.0150)"/><use href="#gC" transform="translate(3005.17 911.65) scale(0.0560 0.0200)"/><use href="#gC" transform="translate(3022.67 909.65) scale(0.0560 0.0200)"/><use href="#gC" transform="translate(3255.99 910.65) scale(0.0560 0.0100)"/><use href="#gC" transform="translate(3261.82 911.35) scale(0.0560 0.0030)"/><use href="#gC" transform="translate(3343.48 911.15) scale(0.0560 0.0050)"/><use href="#gC" transform="translate(3395.98 911.65) scale(0.0560 0.0150)"/><use href="#gC" transform="translate(3413.48 911.35) scale(0.0560 0.0030)"/><use href="#gC" transform="translate(3541.81 911.65) scale(0.0560 0.0150)"/><use href="#gC" transform="translate(3611.80 911.65) scale(0.0560 0.0100)"/><use href="#gC" transform="translate(3623.47 910.15) scale(0.0560 0.0150)"/><use href="#gC" transform="translate(3740.13 910.65) scale(0.0560 0.0100)"/><use href="#gC" transform="translate(3775.13 910.15) scale(0.0560 0.0150)"/><use href="#gC" transform="translate(3833.46 911.15) scale(0.0560 0.0050)"/><use href="#gC" transform="translate(3862.62 911.35) scale(0.0560 0.0030)"/><use href="#gC" transform="translate(3979.28 910.65) scale(0.0560 0.0100)"/><use href="#gC" transform="translate(3996.78 911.65) scale(0.0560 0.0150)"/><use href="#gC" transform="translate(4049.28 911.65) scale(0.0560 0.0150)"/><use href="#gC" transform="translate(4119.27 910.65) scale(0.0560 0.0100)"/></g>
<g fill="#ffa500" stroke="#ffa500" stroke-width="0.4"><use href="#gG" transform="translate(158.67 904.95) scale(0.0560 0.0670)"/><use href="#gG" transform="translate(170.33 907.35) scale(0.0560 0.0430)"/><use href="#gG" transform="translate(182.00 904.15) scale(0.0560 0.0750)"/><use href="#gG" transform="translate(386.15 890.65) scale(0.0560 0.2100)"/><use href="#gG" transform="translate(426.98 903.35) scale(0.0560 0.0830)"/><use href="#gG" transform="translate(479.48 901.05) scale(0.0560 0.1060)"/><use href="#gG" transform="translate(537.81 911.65) scale(0.0560 0.0520)"/><use href="#gG" transform="translate(543.64 911.65) scale(0.0560 0.0520)"/><use href="#gG" transform="translate(601.97 908.15) scale(0.0560 0.0350)"/><use href="#gG" transform="translate(625.31 905.75) scale(0.0560 0.0590)"/><use href="#gG" transform="translate(648.64 911.65) scale(0.0560 0.0410)"/><use href="#gG" transform="translate(671.97 911.65) scale(0.0560 0.0680)"/><use href="#gG" transform="translate(701.13 911.65) scale(0.0560 0.0520)"/><use href="#gG" transform="translate(730.30 911.65) scale(0.0560 0.0640)"/><use href="#gG" transform="translate(835.29 911.65) scale(0.0560 0.0600)"/><use href="#gG" transform="translate(852.79 911.65) scale(0.0560 0.0480)"/><use href="#gG" transform="translate(911.12 911.65) scale(0.0560 0.0370)"/><use href="#gG" transform="translate(1027.78 908.35) scale(0.0560 0.0330)"/><use href="#gG" transform="translate(1039.45 905.95) scale(0.0560 0.0570)"/><use href="#gG" transform="translate(1080.28 911.65) scale(0.0560 0.0860)"/><use href="#gG" transform="translate(1097.78 907.55) scale(0.0560 0.0410)"/><use href="#gG" transform="translate(1132.78 911.65) scale(0.0560 0.0300)"/><use href="#gG" transform="translate(1179.44 894.05) scale(0.0560 0.1760)"/><use href="#gG" transform="translate(1231.94 854.95) scale(0.0560 0.5670)"/><use href="#gG" transform="translate(1243.60 886.95) scale(0.0560 0.2470)"/><use href="#gG" transform="translate(1266.94 911.65) scale(0.0560 0.1840)"/><use href="#gG" transform="translate(1278.60 911.65) scale(0.0560 0.0500)"/><use href="#gG" transform="translate(1301.93 873.65) scale(0.0560 0.3800)"/><use href="#gG" transform="translate(1354.43 836.25) scale(0.0560 0.7540)"/><use href="#gG" transform="translate(1377.76 911.65) scale(0.0560 0.0470)"/><use href="#gG" transform="translate(1412.76 911.65) scale(0.0560 0.3420)"/><use href="#gG" transform="translate(1482.76 880.25) scale(0.0560 0.3140)"/><use href="#gG" transform="translate(1494.42 879.55) scale(0.0560 0.3210)"/><use href="#gG" transform="translate(1529.42 911.65) scale(0.0560 0.0350)"/><use href="#gG" transform="translate(1605.25 911.65) scale(0.0560 0.0460)"/><use href="#gG" transform="translate(1611.08 911.65) scale(0.0560 0.0460)"/><use href="#gG" transform="translate(1646.08 911.65) scale(0.0560 0.0380)"/><use href="#gG" transform="translate(1675.25 886.05) scale(0.0560 0.2560)"/><use href="#gG" transform="translate(1681.08 911.65) scale(0.0560 0.1970)"/><use href="#gG" transform="translate(1692.74 911.65) scale(0.0560 0.0700)"/><use href="#gG" transform="translate(1698.58 902.75) scale(0.0560 0.0890)"/><use href="#gG" transform="translate(1733.58 902.75) scale(0.0560 0.0890)"/><use href="#gG" transform="translate(1832.74 911.65) scale(0.0560 0.0590)"/><use href="#gG" transform="translate(1861.90 899.25) scale(0.0560 0.1240)"/><use href="#gG" transform="translate(1867.73 897.65) scale(0.0560 0.1400)"/><use href="#gG" transform="translate(1902.73 911.65) scale(0.0560 0.0590)"/><use href="#gG" transform="translate(1931.90 904.05) scale(0.0560 0.0760)"/><use href="#gG" transform="translate(1972.73 911.65) scale(0.0560 0.1830)"/><use href="#gG" transform="translate(1990.23 908.65) scale(0.0560 0.0300)"/><use href="#gG" transform="translate(2031.06 903.25) scale(0.0560 0.0840)"/><use href="#gG" transform="translate(2048.56 911.65) scale(0.0560 0.1700)"/><use href="#gG" transform="translate(2054.39 911.65) scale(0.0560 0.1860)"/><use href="#gG" transform="translate(2071.89 911.65) scale(0.0560 0.1140)"/><use href="#gG" transform="translate(2206.05 903.25) scale(0.0560 0.0840)"/><use href="#gG" transform="translate(2229.38 906.45) scale(0.0560 0.0520)"/><use href="#gG" transform="translate(2299.38 907.95) scale(0.0560 0.0370)"/><use href="#gG" transform="translate(2311.04 911.65) scale(0.0560 0.0670)"/><use href="#gG" transform="translate(2322.71 911.65) scale(0.0560 0.0750)"/><use href="#gG" transform="translate(2334.37 907.25) scale(0.0560 0.0440)"/><use href="#gG" transform="translate(2340.21 897.65) scale(0.0560 0.1400)"/><use href="#gG" transform="translate(2421.87 896.85) scale(0.0560 0.1480)"/><use href="#gG" transform="translate(2433.54 900.05) scale(0.0560 0.1160)"/><use href="#gG" transform="translate(2462.70 902.45) scale(0.0560 0.0920)"/><use href="#gG" transform="translate(2480.20 911.65) scale(0.0560 0.1860)"/><use href="#gG" transform="translate(2596.86 905.15) scale(0.0560 0.0650)"/><use href="#gG" transform="translate(2707.69 911.65) scale(0.0560 0.0430)"/><use href="#gG" transform="translate(2754.35 911.65) scale(0.0560 0.0430)"/><use href="#gG" transform="translate(2801.01 911.65) scale(0.0560 0.0350)"/><use href="#gG" transform="translate(2876.84 902.45) scale(0.0560 0.0920)"/><use href="#gG" transform="translate(2882.68 911.65) scale(0.0560 0.0510)"/><use href="#gG" transform="translate(3028.50 911.65) scale(0.0560 0.0430)"/><use href="#gG" transform="translate(3057.67 885.75) scale(0.0560 0.2590)"/><use href="#gG" transform="translate(3063.50 896.85) scale(0.0560 0.1480)"/><use href="#gG" transform="translate(3069.33 890.55) scale(0.0560 0.2110)"/><use href="#gG" transform="translate(3168.49 911.65) scale(0.0560 0.0980)"/><use href="#gG" transform="translate(3174.33 911.65) scale(0.0560 0.1380)"/><use href="#gG" transform="translate(3203.49 906.75) scale(0.0560 0.0490)"/><use href="#gG" transform="translate(3290.99 911.65) scale(0.0560 0.0300)"/><use href="#gG" transform="translate(3296.82 904.85) scale(0.0560 0.0680)"/><use href="#gG" transform="translate(3314.32 911.65) scale(0.0560 0.0350)"/><use href="#gG" transform="translate(3320.15 911.65) scale(0.0560 0.0980)"/><use href="#gG" transform="translate(3331.82 911.65) scale(0.0560 0.0350)"/><use href="#gG" transform="translate(3430.98 906.75) scale(0.0560 0.0490)"/><use href="#gG" transform="translate(3448.48 911.65) scale(0.0560 0.1140)"/><use href="#gG" transform="translate(3465.98 907.25) scale(0.0560 0.0440)"/><use href="#gG" transform="translate(3535.97 900.05) scale(0.0560 0.1160)"/><use href="#gG" transform="translate(3565.14 911.65) scale(0.0560 0.0510)"/><use href="#gG" transform="translate(3582.64 911.65) scale(0.0560 0.1380)"/><use href="#gG" transform="translate(3588.47 911.65) scale(0.0560 0.0300)"/><use href="#gG" transform="translate(3600.14 905.15) scale(0.0560 0.0650)"/><use href="#gG" transform="translate(3658.47 911.65) scale(0.0560 0.0430)"/><use href="#gG" transform="translate(3675.96 911.65) scale(0.0560 0.0460)"/><use href="#gG" transform="translate(3792.62 911.65) scale(0.0560 0.0510)"/><use href="#gG" transform="translate(3798.46 899.25) scale(0.0560 0.1240)"/><use href="#gG" transform="translate(3845.12 911.65) scale(0.0560 0.0580)"/><use href="#gG" transform="translate(3885.95 911.65) scale(0.0560 0.0370)"/><use href="#gG" transform="translate(3903.45 911.65) scale(0.0560 0.0470)"/><use href="#gG" transform="translate(3926.78 911.65) scale(0.0560 0.0470)"/><use href="#gG" transform="translate(3938.45 911.65) scale(0.0560 0.0420)"/><use href="#gG" transform="translate(3955.95 911.65) scale(0.0560 0.0530)"/><use href="#gG" transform="translate(3985.11 906.15) scale(0.0560 0.0550)"/><use href="#gG" transform="translate(4055.11 911.65) scale(0.0560 0.0370)"/><use href="#gG" transform="translate(4078.44 906.15) scale(0.0560 0.0550)"/><use href="#gG" transform="translate(4113.44 911.65) scale(0.0560 0.1150)"/></g>
<g fill="#ffa500"><use href="#gG" transform="translate(141.17 911.15) scale(0.0560 0.0050)"/><use href="#gG" transform="translate(228.66 911.15) scale(0.0560 0.0050)"/><use href="#gG" transform="translate(316.16 909.65) scale(0.0560 0.0200)"/><use href="#gG" transform="translate(356.99 911.65) scale(0.0560 0.0290)"/><use href="#gG" transform="translate(368.65 911.35) scale(0.0560 0.0030)"/><use href="#gG" transform="translate(374.49 910.15) scale(0.0560 0.0150)"/><use href="#gG" transform="translate(391.99 911.15) scale(0.0560 0.0050)"/><use href="#gG" transform="translate(555.31 911.15) scale(0.0560 0.0050)"/><use href="#gG" transform="translate(566.98 911.15) scale(0.0560 0.0050)"/><use href="#gG" transform="translate(613.64 911.65) scale(0.0560 0.0150)"/><use href="#gG" transform="translate(619.47 910.65) scale(0.0560 0.0100)"/><use href="#gG" transform="translate(666.14 910.65) scale(0.0560 0.0100)"/><use href="#gG" transform="translate(718.63 910.65) scale(0.0560 0.0100)"/><use href="#gG" transform="translate(806.13 911.65) scale(0.0560 0.0200)"/><use href="#gG" transform="translate(870.29 911.35) scale(0.0560 0.0030)"/><use href="#gG" transform="translate(1138.61 911.15) scale(0.0560 0.0050)"/><use href="#gG" transform="translate(1220.27 909.65) scale(0.0560 0.0200)"/><use href="#gG" transform="translate(1564.42 911.65) scale(0.0560 0.0150)"/><use href="#gG" transform="translate(1622.75 911.65) scale(0.0560 0.0150)"/><use href="#gG" transform="translate(1628.58 911.35) scale(0.0560 0.0030)"/><use href="#gG" transform="translate(1768.57 911.35) scale(0.0560 0.0030)"/><use href="#gG" transform="translate(1826.90 910.65) scale(0.0560 0.0100)"/><use href="#gG" transform="translate(1838.57 910.65) scale(0.0560 0.0100)"/><use href="#gG" transform="translate(1914.40 911.35) scale(0.0560 0.0030)"/><use href="#gG" transform="translate(1966.90 911.35) scale(0.0560 0.0030)"/><use href="#gG" transform="translate(2001.89 911.65) scale(0.0560 0.0100)"/><use href="#gG" transform="translate(2101.05 911.65) scale(0.0560 0.0150)"/><use href="#gG" transform="translate(2276.04 911.65) scale(0.0560 0.0100)"/><use href="#gG" transform="translate(2363.54 909.65) scale(0.0560 0.0200)"/><use href="#gG" transform="translate(2398.54 910.15) scale(0.0560 0.0150)"/><use href="#gG" transform="translate(2497.70 910.15) scale(0.0560 0.0150)"/><use href="#gG" transform="translate(2637.69 911.35) scale(0.0560 0.0030)"/><use href="#gG" transform="translate(2760.18 910.65) scale(0.0560 0.0100)"/><use href="#gG" transform="translate(2783.52 909.65) scale(0.0560 0.0200)"/><use href="#gG" transform="translate(2818.51 911.35) scale(0.0560 0.0030)"/><use href="#gG" transform="translate(2865.18 910.15) scale(0.0560 0.0150)"/><use href="#gG" transform="translate(2888.51 911.35) scale(0.0560 0.0030)"/><use href="#gG" transform="translate(2906.01 910.65) scale(0.0560 0.0100)"/><use href="#gG" transform="translate(2911.84 909.65) scale(0.0560 0.0200)"/><use href="#gG" transform="translate(2946.84 910.65) scale(0.0560 0.0100)"/><use href="#gG" transform="translate(2952.67 909.15) scale(0.0560 0.0250)"/><use href="#gG" transform="translate(2970.17 911.65) scale(0.0560 0.0250)"/><use href="#gG" transform="translate(3150.99 911.35) scale(0.0560 0.0030)"/><use href="#gG" transform="translate(3191.83 909.15) scale(0.0560 0.0250)"/><use href="#gG" transform="translate(3209.32 910.65) scale(0.0560 0.0100)"/><use href="#gG" transform="translate(3232.66 911.35) scale(0.0560 0.0030)"/><use href="#gG" transform="translate(3250.16 910.65) scale(0.0560 0.0100)"/><use href="#gG" transform="translate(3308.49 911.65) scale(0.0560 0.0250)"/><use href="#gG" transform="translate(3349.32 911.65) scale(0.0560 0.0250)"/><use href="#gG" transform="translate(3518.47 910.15) scale(0.0560 0.0150)"/><use href="#gG" transform="translate(3559.30 909.65) scale(0.0560 0.0200)"/><use href="#gG" transform="translate(3605.97 911.35) scale(0.0560 0.0030)"/><use href="#gG" transform="translate(3652.63 911.65) scale(0.0560 0.0200)"/><use href="#gG" transform="translate(3710.96 911.65) scale(0.0560 0.0200)"/><use href="#gG" transform="translate(3722.63 910.65) scale(0.0560 0.0100)"/><use href="#gG" transform="translate(3734.29 911.35) scale(0.0560 0.0030)"/><use href="#gG" transform="translate(3780.96 911.35) scale(0.0560 0.0030)"/><use href="#gG" transform="translate(3786.79 910.15) scale(0.0560 0.0150)"/><use href="#gG" transform="translate(3920.95 910.65) scale(0.0560 0.0100)"/><use href="#gG" transform="translate(3967.61 911.35) scale(0.0560 0.0030)"/><use href="#gG" transform="translate(4037.61 910.65) scale(0.0560 0.0100)"/><use href="#gG" transform="translate(4043.44 911.65) scale(0.0560 0.0100)"/><use href="#gG" transform="translate(4072.61 911.65) scale(0.0560 0.0150)"/><use href="#gG" transform="translate(4177.60 910.65) scale(0.0560 0.0100)"/><use href="#gG" transform="translate(4212.60 910.65) scale(0.0560 0.0100)"/></g>
<g fill="#008000" stroke="#008000" stroke-width="0.4"><use href="#gT" transform="translate(234.49 907.35) scale(0.0560 0.0430)"/><use href="#gT" transform="translate(292.82 911.65) scale(0.0560 0.0370)"/><use href="#gT" transform="translate(321.99 911.65) scale(0.0560 0.0410)"/><use href="#gT" transform="translate(397.82 911.65) scale(0.0560 0.2190)"/><use href="#gT" transform="translate(444.48 903.05) scale(0.0560 0.0860)"/><use href="#gT" transform="translate(531.98 908.15) scale(0.0560 0.0350)"/><use href="#gT" transform="translate(642.80 906.85) scale(0.0560 0.0480)"/><use href="#gT" transform="translate(689.47 911.65) scale(0.0560 0.0680)"/><use href="#gT" transform="translate(1021.95 905.95) scale(0.0560 0.0570)"/><use href="#gT" transform="translate(1045.28 911.65) scale(0.0560 0.0670)"/><use href="#gT" transform="translate(1062.78 911.65) scale(0.0560 0.0350)"/><use href="#gT" transform="translate(1068.61 900.85) scale(0.0560 0.1080)"/><use href="#gT" transform="translate(1074.45 907.55) scale(0.0560 0.0410)"/><use href="#gT" transform="translate(1086.11 907.55) scale(0.0560 0.0410)"/><use href="#gT" transform="translate(1091.95 911.65) scale(0.0560 0.0410)"/><use href="#gT" transform="translate(1126.94 905.95) scale(0.0560 0.0570)"/><use href="#gT" transform="translate(1173.61 911.65) scale(0.0560 0.0300)"/><use href="#gT" transform="translate(1196.94 911.65) scale(0.0560 0.0700)"/><use href="#gT" transform="translate(1208.61 896.45) scale(0.0560 0.1520)"/><use href="#gT" transform="translate(1272.77 857.75) scale(0.0560 0.5390)"/><use href="#gT" transform="translate(1284.43 883.75) scale(0.0560 0.2790)"/><use href="#gT" transform="translate(1325.27 884.35) scale(0.0560 0.2730)"/><use href="#gT" transform="translate(1406.93 905.35) scale(0.0560 0.0630)"/><use href="#gT" transform="translate(1418.59 911.65) scale(0.0560 0.0620)"/><use href="#gT" transform="translate(1441.93 911.65) scale(0.0560 0.2930)"/><use href="#gT" transform="translate(1459.42 875.35) scale(0.0560 0.3630)"/><use href="#gT" transform="translate(1465.26 886.45) scale(0.0560 0.2520)"/><use href="#gT" transform="translate(1476.92 880.95) scale(0.0560 0.3070)"/><use href="#gT" transform="translate(1488.59 911.65) scale(0.0560 0.6150)"/><use href="#gT" transform="translate(1500.26 911.65) scale(0.0560 0.1960)"/><use href="#gT" transform="translate(1523.59 894.15) scale(0.0560 0.1750)"/><use href="#gT" transform="translate(1704.41 911.65) scale(0.0560 0.0300)"/><use href="#gT" transform="translate(1739.41 911.65) scale(0.0560 0.0300)"/><use href="#gT" transform="translate(1751.07 889.25) scale(0.0560 0.2240)"/><use href="#gT" transform="translate(1756.91 905.95) scale(0.0560 0.0570)"/><use href="#gT" transform="translate(1780.24 905.15) scale(0.0560 0.0650)"/><use href="#gT" transform="translate(1797.74 911.65) scale(0.0560 0.0590)"/><use href="#gT" transform="translate(1844.40 901.65) scale(0.0560 0.1000)"/><use href="#gT" transform="translate(1856.07 907.95) scale(0.0560 0.0370)"/><use href="#gT" transform="translate(1949.40 905.65) scale(0.0560 0.0600)"/><use href="#gT" transform="translate(1961.06 900.85) scale(0.0560 0.1080)"/><use href="#gT" transform="translate(2007.73 893.75) scale(0.0560 0.1790)"/><use href="#gT" transform="translate(2025.23 903.25) scale(0.0560 0.0840)"/><use href="#gT" transform="translate(2211.88 905.15) scale(0.0560 0.0650)"/><use href="#gT" transform="translate(2223.55 906.05) scale(0.0560 0.0560)"/><use href="#gT" transform="translate(2241.05 911.65) scale(0.0560 0.1060)"/><use href="#gT" transform="translate(2281.88 906.75) scale(0.0560 0.0490)"/><use href="#gT" transform="translate(2357.71 906.75) scale(0.0560 0.0490)"/><use href="#gT" transform="translate(2369.37 911.65) scale(0.0560 0.0510)"/><use href="#gT" transform="translate(2381.04 902.45) scale(0.0560 0.0920)"/><use href="#gT" transform="translate(2392.70 911.65) scale(0.0560 0.0670)"/><use href="#gT" transform="translate(2404.37 911.65) scale(0.0560 0.0430)"/><use href="#gT" transform="translate(2416.04 899.25) scale(0.0560 0.1240)"/><use href="#gT" transform="translate(2451.03 904.85) scale(0.0560 0.0680)"/><use href="#gT" transform="translate(2468.53 911.65) scale(0.0560 0.1780)"/><use href="#gT" transform="translate(2491.87 905.15) scale(0.0560 0.0650)"/><use href="#gT" transform="translate(2503.53 911.65) scale(0.0560 0.0430)"/><use href="#gT" transform="translate(2509.36 904.05) scale(0.0560 0.0760)"/><use href="#gT" transform="translate(2515.20 904.05) scale(0.0560 0.0760)"/><use href="#gT" transform="translate(2567.69 906.75) scale(0.0560 0.0490)"/><use href="#gT" transform="translate(2585.19 911.65) scale(0.0560 0.0430)"/><use href="#gT" transform="translate(2614.36 911.65) scale(0.0560 0.0510)"/><use href="#gT" transform="translate(2631.86 901.65) scale(0.0560 0.1000)"/><use href="#gT" transform="translate(2666.86 903.25) scale(0.0560 0.0840)"/><use href="#gT" transform="translate(2690.19 903.25) scale(0.0560 0.0840)"/><use href="#gT" transform="translate(2696.02 911.65) scale(0.0560 0.1220)"/><use href="#gT" transform="translate(2701.85 901.65) scale(0.0560 0.1000)"/><use href="#gT" transform="translate(2795.18 911.65) scale(0.0560 0.0350)"/><use href="#gT" transform="translate(2900.18 911.65) scale(0.0560 0.0300)"/><use href="#gT" transform="translate(2981.84 911.65) scale(0.0560 0.0430)"/><use href="#gT" transform="translate(2987.67 907.95) scale(0.0560 0.0370)"/><use href="#gT" transform="translate(2999.34 907.95) scale(0.0560 0.0370)"/><use href="#gT" transform="translate(3081.00 911.65) scale(0.0560 0.1060)"/><use href="#gT" transform="translate(3145.16 894.55) scale(0.0560 0.1710)"/><use href="#gT" transform="translate(3285.15 904.05) scale(0.0560 0.0760)"/><use href="#gT" transform="translate(3407.65 904.05) scale(0.0560 0.0760)"/><use href="#gT" transform="translate(3553.47 907.25) scale(0.0560 0.0440)"/><use href="#gT" transform="translate(3576.80 905.15) scale(0.0560 0.0650)"/><use href="#gT" transform="translate(3699.30 911.65) scale(0.0560 0.0430)"/><use href="#gT" transform="translate(3757.63 911.65) scale(0.0560 0.0510)"/><use href="#gT" transform="translate(3763.46 902.45) scale(0.0560 0.0920)"/><use href="#gT" transform="translate(3839.29 904.55) scale(0.0560 0.0710)"/><use href="#gT" transform="translate(3891.79 907.75) scale(0.0560 0.0390)"/><use href="#gT" transform="translate(3932.62 911.65) scale(0.0560 0.0900)"/><use href="#gT" transform="translate(3950.12 905.65) scale(0.0560 0.0600)"/><use href="#gT" transform="translate(4084.27 911.65) scale(0.0560 0.0530)"/><use href="#gT" transform="translate(4090.11 911.65) scale(0.0560 0.0530)"/><use href="#gT" transform="translate(4107.61 900.55) scale(0.0560 0.1110)"/><use href="#gT" transform="translate(4125.11 902.95) scale(0.0560 0.0870)"/><use href="#gT" transform="translate(4136.77 911.65) scale(0.0560 0.1310)"/><use href="#gT" transform="translate(4183.44 905.35) scale(0.0560 0.0630)"/></g>
<g fill="#008000"><use href="#gT" transform="translate(129.50 911.35) scale(0.0560 0.0030)"/><use href="#gT" transform="translate(135.33 911.35) scale(0.0560 0.0030)"/><use href="#gT" transform="translate(152.83 911.35) scale(0.0560 0.0030)"/><use href="#gT" transform="translate(176.16 911.35) scale(0.0560 0.0030)"/><use href="#gT" transform="translate(240.33 911.65) scale(0.0560 0.0250)"/><use href="#gT" transform="translate(251.99 909.45) scale(0.0560 0.0220)"/><use href="#gT" transform="translate(263.66 910.15) scale(0.0560 0.0150)"/><use href="#gT" transform="translate(269.49 909.75) scale(0.0560 0.0190)"/><use href="#gT" transform="translate(275.33 909.75) scale(0.0560 0.0190)"/><use href="#gT" transform="translate(281.16 911.35) scale(0.0560 0.0030)"/><use href="#gT" transform="translate(298.66 911.35) scale(0.0560 0.0030)"/><use href="#gT" transform="translate(345.32 910.45) scale(0.0560 0.0120)"/><use href="#gT" transform="translate(362.82 910.65) scale(0.0560 0.0100)"/><use href="#gT" transform="translate(415.32 908.95) scale(0.0560 0.0270)"/><use href="#gT" transform="translate(421.15 908.95) scale(0.0560 0.0270)"/><use href="#gT" transform="translate(438.65 911.65) scale(0.0560 0.0120)"/><use href="#gT" transform="translate(467.81 911.65) scale(0.0560 0.0200)"/><use href="#gT" transform="translate(473.65 910.15) scale(0.0560 0.0150)"/><use href="#gT" transform="translate(496.98 911.35) scale(0.0560 0.0030)"/><use href="#gT" transform="translate(508.65 909.75) scale(0.0560 0.0190)"/><use href="#gT" transform="translate(584.47 911.35) scale(0.0560 0.0030)"/><use href="#gT" transform="translate(660.30 910.85) scale(0.0560 0.0080)"/><use href="#gT" transform="translate(677.80 910.65) scale(0.0560 0.0100)"/><use href="#gT" transform="translate(794.46 911.35) scale(0.0560 0.0030)"/><use href="#gT" transform="translate(823.63 911.35) scale(0.0560 0.0030)"/><use href="#gT" transform="translate(829.46 911.35) scale(0.0560 0.0030)"/><use href="#gT" transform="translate(846.96 910.85) scale(0.0560 0.0080)"/><use href="#gT" transform="translate(876.12 910.65) scale(0.0560 0.0100)"/><use href="#gT" transform="translate(899.46 908.95) scale(0.0560 0.0270)"/><use href="#gT" transform="translate(922.79 911.35) scale(0.0560 0.0030)"/><use href="#gT" transform="translate(934.45 911.65) scale(0.0560 0.0150)"/><use href="#gT" transform="translate(975.29 911.35) scale(0.0560 0.0030)"/><use href="#gT" transform="translate(1167.77 911.35) scale(0.0560 0.0030)"/><use href="#gT" transform="translate(1576.08 911.35) scale(0.0560 0.0030)"/><use href="#gT" transform="translate(1581.92 911.35) scale(0.0560 0.0030)"/><use href="#gT" transform="translate(1616.92 911.35) scale(0.0560 0.0030)"/><use href="#gT" transform="translate(1657.75 911.35) scale(0.0560 0.0030)"/><use href="#gT" transform="translate(1821.07 909.25) scale(0.0560 0.0240)"/><use href="#gT" transform="translate(1908.57 911.35) scale(0.0560 0.0030)"/><use href="#gT" transform="translate(2060.22 909.65) scale(0.0560 0.0200)"/><use href="#gT" transform="translate(2106.89 911.65) scale(0.0560 0.0150)"/><use href="#gT" transform="translate(2112.72 911.35) scale(0.0560 0.0030)"/><use href="#gT" transform="translate(2141.89 910.15) scale(0.0560 0.0150)"/><use href="#gT" transform="translate(2153.55 911.35) scale(0.0560 0.0030)"/><use href="#gT" transform="translate(2176.88 911.35) scale(0.0560 0.0030)"/><use href="#gT" transform="translate(2287.71 911.65) scale(0.0560 0.0200)"/><use href="#gT" transform="translate(2538.53 911.35) scale(0.0560 0.0030)"/><use href="#gT" transform="translate(2643.52 910.15) scale(0.0560 0.0150)"/><use href="#gT" transform="translate(2719.35 911.35) scale(0.0560 0.0030)"/><use href="#gT" transform="translate(2731.02 911.65) scale(0.0560 0.0220)"/><use href="#gT" transform="translate(2766.02 911.35) scale(0.0560 0.0030)"/><use href="#gT" transform="translate(2789.35 911.35) scale(0.0560 0.0030)"/><use href="#gT" transform="translate(2836.01 911.35) scale(0.0560 0.0030)"/><use href="#gT" transform="translate(2993.50 910.15) scale(0.0560 0.0150)"/><use href="#gT" transform="translate(3051.83 911.65) scale(0.0560 0.0240)"/><use href="#gT" transform="translate(3092.66 911.35) scale(0.0560 0.0030)"/><use href="#gT" transform="translate(3098.50 911.35) scale(0.0560 0.0030)"/><use href="#gT" transform="translate(3104.33 911.65) scale(0.0560 0.0270)"/><use href="#gT" transform="translate(3127.66 911.35) scale(0.0560 0.0030)"/><use href="#gT" transform="translate(3139.33 911.65) scale(0.0560 0.0240)"/><use href="#gT" transform="translate(3162.66 908.75) scale(0.0560 0.0290)"/><use href="#gT" transform="translate(3180.16 910.35) scale(0.0560 0.0130)"/><use href="#gT" transform="translate(3226.82 910.15) scale(0.0560 0.0150)"/><use href="#gT" transform="translate(3355.15 910.65) scale(0.0560 0.0100)"/><use href="#gT" transform="translate(3372.65 911.35) scale(0.0560 0.0030)"/><use href="#gT" transform="translate(3419.31 911.65) scale(0.0560 0.0200)"/><use href="#gT" transform="translate(3425.15 911.35) scale(0.0560 0.0030)"/><use href="#gT" transform="translate(3460.14 911.35) scale(0.0560 0.0030)"/><use href="#gT" transform="translate(3506.81 910.15) scale(0.0560 0.0150)"/><use href="#gT" transform="translate(3594.30 910.15) scale(0.0560 0.0150)"/><use href="#gT" transform="translate(3635.13 908.75) scale(0.0560 0.0290)"/><use href="#gT" transform="translate(3670.13 909.15) scale(0.0560 0.0250)"/><use href="#gT" transform="translate(3687.63 909.65) scale(0.0560 0.0200)"/><use href="#gT" transform="translate(3850.95 911.35) scale(0.0560 0.0030)"/><use href="#gT" transform="translate(3897.62 911.35) scale(0.0560 0.0030)"/><use href="#gT" transform="translate(3909.28 911.35) scale(0.0560 0.0030)"/><use href="#gT" transform="translate(3915.12 911.65) scale(0.0560 0.0200)"/><use href="#gT" transform="translate(3944.28 911.65) scale(0.0560 0.0260)"/><use href="#gT" transform="translate(3961.78 910.15) scale(0.0560 0.0150)"/><use href="#gT" transform="translate(4008.45 911.35) scale(0.0560 0.0030)"/><use href="#gT" transform="translate(4014.28 910.65) scale(0.0560 0.0100)"/><use href="#gT" transform="translate(4020.11 910.65) scale(0.0560 0.0100)"/><use href="#gT" transform="translate(4025.94 910.65) scale(0.0560 0.0100)"/><use href="#gT" transform="translate(4171.77 911.35) scale(0.0560 0.0030)"/><use href="#gT" transform="translate(4200.93 911.35) scale(0.0560 0.0030)"/><use href="#gT" transform="translate(4206.77 911.35) scale(0.0560 0.0030)"/></g>
<path d="M132.30 1008.30V1022.30 M540.61 1008.30V1022.30 M948.92 1008.30V1022.30 M1357.23 1008.30V1022.30 M1765.54 1008.30V1022.30 M2173.85 1008.30V1022.30 M2582.16 1008.30V1022.30 M2990.47 1008.30V1022.30 M3398.78 1008.30V1022.30 M3807.09 1008.30V1022.30 M4215.40 1008.30V1022.30" stroke="#000" stroke-width="3.33" fill="none"/>
<rect x="130.60" y="1032.60" width="4087.90" height="76.60" fill="#f6fcf4"/>
<rect x="1330.98" y="1032.60" width="5.83" height="76.60" fill="#d4ecce"/>
<rect x="1470.97" y="1032.60" width="5.83" height="76.60" fill="#e8f4e4"/>
<rect x="456.03" y="1032.60" width="5.83" height="76.60" fill="#f3faf1"/>
<rect x="981.00" y="1032.60" width="5.83" height="76.60" fill="#f3faf1"/>
<rect x="1080.16" y="1032.60" width="5.83" height="76.60" fill="#f3faf1"/>
<rect x="1214.32" y="1032.60" width="5.83" height="76.60" fill="#f3faf0"/>
<rect x="1260.99" y="1032.60" width="5.83" height="76.60" fill="#f3faf0"/>
<rect x="1272.65" y="1032.60" width="5.83" height="76.60" fill="#f3faf0"/>
<rect x="130.60" y="1032.60" width="4087.90" height="76.60" fill="none" stroke="#000" stroke-width="3.33"/>
<path d="M132.30 1110.70V1124.50 M540.61 1110.70V1124.50 M948.92 1110.70V1124.50 M1357.23 1110.70V1124.50 M1765.54 1110.70V1124.50 M2173.85 1110.70V1124.50 M2582.16 1110.70V1124.50 M2990.47 1110.70V1124.50 M3398.78 1110.70V1124.50 M3807.09 1110.70V1124.50 M4215.40 1110.70V1124.50" stroke="#000" stroke-width="3.33" fill="none"/>
<rect x="130.60" y="1149.50" width="4087.90" height="76.30" fill="#fff5eb"/>
<rect x="1301.82" y="1149.50" width="5.83" height="76.30" fill="#fdebd9"/>
<rect x="456.03" y="1149.50" width="5.83" height="76.30" fill="#fef2e7"/>
<rect x="1733.46" y="1149.50" width="5.83" height="76.30" fill="#fef2e7"/>
<rect x="1249.32" y="1149.50" width="5.83" height="76.30" fill="#fef2e7"/>
<rect x="130.60" y="1149.50" width="4087.90" height="76.30" fill="none" stroke="#000" stroke-width="3.33"/>
<path d="M132.30 1227.40V1241.30 M540.61 1227.40V1241.30 M948.92 1227.40V1241.30 M1357.23 1227.40V1241.30 M1765.54 1227.40V1241.30 M2173.85 1227.40V1241.30 M2582.16 1227.40V1241.30 M2990.47 1227.40V1241.30 M3398.78 1227.40V1241.30 M3807.09 1227.40V1241.30 M4215.40 1227.40V1241.30" stroke="#000" stroke-width="3.33" fill="none"/>
<text x="129.68" y="1284.00" font-size="24.71" fill="#808080" stroke="#808080" stroke-width="0.75" textLength="4088.63" lengthAdjust="spacingAndGlyphs">TTGATGAGTGAAAAACCGTTCTCTTTTATTCAGTCAATCGTGGCGGTAATTGCTTCAATTGCATATCCCTGGCGAGCATAAGCGGGACTGATGGTATAGCCGAGCCAAAACACATCGCATTGCTGACGTAAATAGATATCACCAATCAAAACCTGCGTCATTTGTTGACAATGGCCAATTGAATATCGCGAGCAAGTGTAAGAACTCCCAGCAAGACCCTGTAAATAATTCTGTGTAACTGCCCACGATTAAAGGTGGCCGCTCAGGCGGTCACCGTATTCGATAATAAATGGGTCTGGAAAAAGTGCAGCATCTGGCAGCGTAATGCAGGTAGCCCAGTTCAACTCTCACTACCAGTATGATCCCAAGTTCGAGCGCGGAATGTATCTGTATGAGCATCGTCGCTGTTTCAATAACATCATCGACTACTGTAACTCACTTTGCTATCACGGTAAGTTGCAGCCTAAAAGAGGGATGGAAAAAGGACGATTTTCCCCGCAATGGGATATTTACATATTGATGGTAGAGGCATGAAGCCAAATGGAGGGAGCCGTCATAACCCTCTTGAAGCTGAAACAATAGCAGCATGGCTGGTGGCACATAAGGATGATATAGAGCGCCATTACGGGGAACCACTGTACAAAGTTGTTGGTGTTGTGACGCCATTTTCGGCGCAGGTTAATGCTATCAAAATGTCATTG</text>
<path d="M132.30 1285.60V1300.30 M540.61 1285.60V1300.30 M948.92 1285.60V1300.30 M1357.23 1285.60V1300.30 M1765.54 1285.60V1300.30 M2173.85 1285.60V1300.30 M2582.16 1285.60V1300.30 M2990.47 1285.60V1300.30 M3398.78 1285.60V1300.30 M3807.09 1285.60V1300.30 M4215.40 1285.60V1300.30" stroke="#000" stroke-width="3.33" fill="none"/>
<text transform="translate(132.30,1347.20) scale(1.0000,1)" font-size="44.5" text-anchor="middle" textLength="183" lengthAdjust="spacingAndGlyphs">4534515</text>
<text transform="translate(540.61,1347.20) scale(1.0000,1)" font-size="44.5" text-anchor="middle" textLength="183" lengthAdjust="spacingAndGlyphs">4534585</text>
<text transform="translate(948.92,1347.20) scale(1.0000,1)" font-size="44.5" text-anchor="middle" textLength="183" lengthAdjust="spacingAndGlyphs">4534655</text>
<text transform="translate(1357.23,1347.20) scale(1.0000,1)" font-size="44.5" text-anchor="middle" textLength="183" lengthAdjust="spacingAndGlyphs">4534725</text>
<text transform="translate(1765.54,1347.20) scale(1.0000,1)" font-size="44.5" text-anchor="middle" textLength="183" lengthAdjust="spacingAndGlyphs">4534795</text>
<text transform="translate(2173.85,1347.20) scale(1.0000,1)" font-size="44.5" text-anchor="middle" textLength="183" lengthAdjust="spacingAndGlyphs">4534865</text>
<text transform="translate(2582.16,1347.20) scale(1.0000,1)" font-size="44.5" text-anchor="middle" textLength="183" lengthAdjust="spacingAndGlyphs">4534935</text>
<text transform="translate(2990.47,1347.20) scale(1.0000,1)" font-size="44.5" text-anchor="middle" textLength="183" lengthAdjust="spacingAndGlyphs">4535005</text>
<text transform="translate(3398.78,1347.20) scale(1.0000,1)" font-size="44.5" text-anchor="middle" textLength="183" lengthAdjust="spacingAndGlyphs">4535075</text>
<text transform="translate(3807.09,1347.20) scale(1.0000,1)" font-size="44.5" text-anchor="middle" textLength="183" lengthAdjust="spacingAndGlyphs">4535145</text>
<text transform="translate(4215.40,1347.20) scale(1.0000,1)" font-size="44.5" text-anchor="middle" textLength="183" lengthAdjust="spacingAndGlyphs">4535215</text>
<text x="2160" y="1418" font-size="50" text-anchor="middle">Genomic Position</text>
</svg></body></html>
